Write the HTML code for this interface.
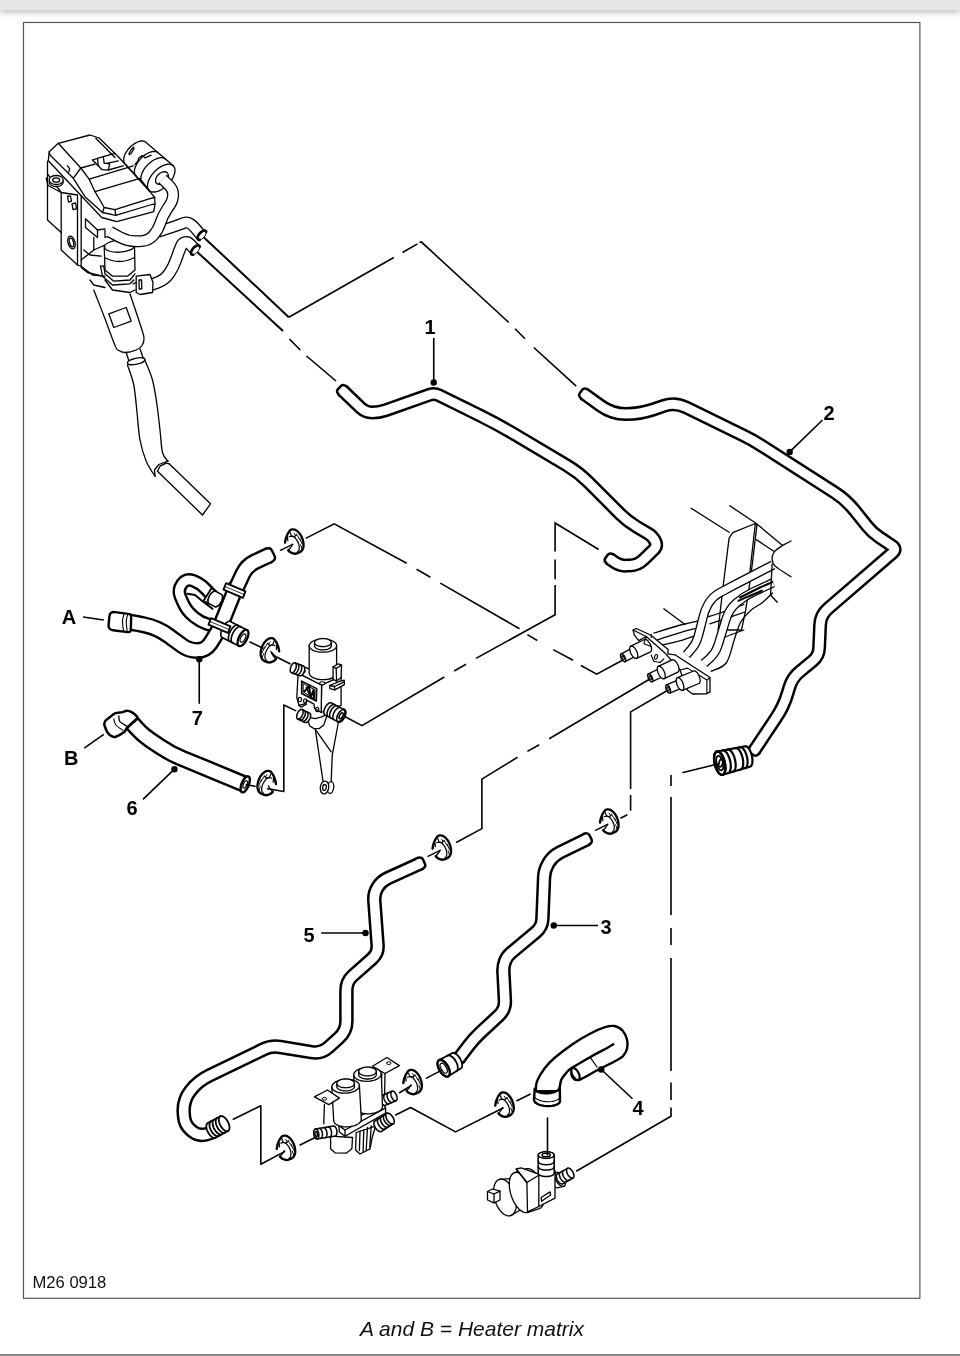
<!DOCTYPE html>
<html><head><meta charset="utf-8"><title>M26 0918</title>
<style>
html,body{margin:0;padding:0;background:#fff;}
body{width:960px;height:1356px;overflow:hidden;position:relative;font-family:"Liberation Sans",Arial,sans-serif;}
.topbar{position:absolute;left:0;top:0;width:960px;height:10px;background:#e7e7e7;box-shadow:0 1px 7px 1px rgba(0,0,0,.28);}
.botline{position:absolute;left:0;top:1354.4px;width:960px;height:1.6px;background:#8a8a8a;}
svg{position:absolute;left:0;top:0;filter:grayscale(1);}
.code,.cap{filter:grayscale(1);}
svg text{font-family:"Liberation Sans",Arial,sans-serif;}
.lb{font-weight:bold;font-size:20px;}
.cap{position:absolute;left:0;width:944px;text-align:center;top:1316.5px;font-style:italic;font-size:21px;color:#111;}
.code{position:absolute;left:32.5px;top:1272.5px;font-size:16.6px;color:#111;}
</style></head><body>
<div class="topbar"></div>
<svg width="960" height="1356" viewBox="0 0 960 1356">
<rect x="23.5" y="22.5" width="896.4" height="1275.8" fill="#fff" stroke="#505050" stroke-width="1.15"/>
<path d="M203.4,236.9 L288.8,317.2" fill="none" stroke="#000" stroke-width="2.0" />
<path d="M288.8,317.2 L393.8,257.5" fill="none" stroke="#000" stroke-width="1.6" />
<path d="M402.5,252.5L417.5,243.9" fill="none" stroke="#000" stroke-width="1.6"/>
<path d="M419.5,242.6 L421.2,241.8 L508.8,322.5" fill="none" stroke="#000" stroke-width="1.6" />
<path d="M515.0,328.8L525.0,338.8M533.8,347.5L576.2,386.2" fill="none" stroke="#000" stroke-width="1.6"/>
<path d="M196.7,251.5L283.0,331.0" fill="none" stroke="#000" stroke-width="2.0"/>
<path d="M289.4,339.0L300.3,350.0M306.5,356.0L336.0,381.0" fill="none" stroke="#000" stroke-width="1.6"/>
<path d="M305.7,538.4 L334.2,523.8 L406.7,563.3" fill="none" stroke="#000" stroke-width="1.6" />
<path d="M416.6,569.3L430.4,577.2M440.3,583.1L519.5,628.7M527.4,634.6L537.3,640.5M553.2,649.6L573.0,660.3" fill="none" stroke="#000" stroke-width="1.6"/>
<path d="M580.9,665.5 L596.7,674.2 L622.4,660.3" fill="none" stroke="#000" stroke-width="1.6" />
<path d="M598.7,549.5 L555.1,523.0 L555.1,551.5" fill="none" stroke="#000" stroke-width="1.6" />
<path d="M555.1,559.4L555.1,579.2" fill="none" stroke="#000" stroke-width="1.6"/>
<path d="M555.1,585.0 L555.1,614.8 L476.0,658.4" fill="none" stroke="#000" stroke-width="1.6" />
<path d="M466.0,664.3L454.2,671.0" fill="none" stroke="#000" stroke-width="1.6"/>
<path d="M444.3,677.0 L362.0,725.7 L343.3,715.8" fill="none" stroke="#000" stroke-width="1.6" />
<path d="M649.8,679.0L549.2,738.7M539.3,744.7L527.4,751.4" fill="none" stroke="#000" stroke-width="1.6"/>
<path d="M517.5,757.3 L481.9,779.1 L481.9,828.6 L456.2,842.5" fill="none" stroke="#000" stroke-width="1.6" />
<path d="M667.8,690.2 L630.6,711.9 L630.6,789.0" fill="none" stroke="#000" stroke-width="1.6" />
<path d="M630.6,795.0L630.6,810.8M627.4,814.7L620.4,818.2" fill="none" stroke="#000" stroke-width="1.6"/>
<path d="M671.0,775.0L671.0,786.0M671.0,797.0L671.0,915.0M671.0,928.0L671.0,945.0M671.0,958.0L671.0,1071.0M671.0,1082.5L671.0,1100.0" fill="none" stroke="#000" stroke-width="1.6"/>
<path d="M671.0,1107.5 L671.0,1116.2 L576.2,1171.2" fill="none" stroke="#000" stroke-width="1.6" />
<path d="M93.8,290.0C95.6,294.8 101.5,309.5 105.0,318.8C108.5,328.0 112.8,340.3 115.0,345.5C117.2,350.7 116.3,348.8 118.0,350.0C119.7,351.2 122.0,352.5 125.0,352.5C128.0,352.5 133.4,351.2 136.2,350.0C139.1,348.8 140.7,347.4 142.0,345.5C143.3,343.6 144.0,341.3 144.0,338.8C144.0,336.2 144.3,337.5 142.0,330.0C139.7,322.5 132.0,299.8 130.0,293.8" fill="#fff" stroke="#000" stroke-width="1.3" stroke-linejoin="round" stroke-linecap="round" />
<path d="M108.8,313.8 L126.2,307.5 L131.2,321.2 L113.8,327.5Z" fill="none" stroke="#000" stroke-width="1.3" stroke-linejoin="round" stroke-linecap="round"/>
<path d="M126.2,352.5 L128.8,360.5" fill="none" stroke="#000" stroke-width="1.3" stroke-linejoin="round" stroke-linecap="round"/>
<path d="M140.0,348.8 L143.0,357.5" fill="none" stroke="#000" stroke-width="1.3" stroke-linejoin="round" stroke-linecap="round"/>
<ellipse cx="136.2" cy="361.2" rx="9" ry="3" transform="rotate(-12 136.2 361.2)" fill="none" stroke="#000" stroke-width="1.3"/>
<path d="M127.5,365.0C128.5,368.3 132.2,377.1 133.8,385.0C135.3,392.9 136.0,403.3 137.0,412.5C138.0,421.7 138.5,431.9 140.0,440.0C141.5,448.1 143.8,455.2 146.2,461.2C148.8,467.3 153.5,473.8 155.0,476.2" fill="none" stroke="#000" stroke-width="1.3" stroke-linejoin="round" stroke-linecap="round" />
<path d="M145.0,360.5C146.2,363.8 150.5,372.6 152.5,380.0C154.5,387.4 155.8,396.7 157.0,405.0C158.2,413.3 159.1,422.1 160.0,430.0C160.9,437.9 161.2,447.3 162.5,452.5C163.8,457.7 167.1,459.8 168.0,461.2" fill="none" stroke="#000" stroke-width="1.3" stroke-linejoin="round" stroke-linecap="round" />
<path d="M155.0,476.2 L154.5,470.0 L158.8,464.5 L168.0,461.2" fill="none" stroke="#000" stroke-width="1.3" stroke-linejoin="round" stroke-linecap="round"/>
<path d="M157.5,471.2 L202.5,515.0 L210.5,503.8 L169.2,463.8" fill="none" stroke="#000" stroke-width="1.3" stroke-linejoin="round" stroke-linecap="round"/>
<path d="M157.5,471.2 L160.0,466.2 L166.2,463.2 L169.2,463.8" fill="none" stroke="#000" stroke-width="1.3" stroke-linejoin="round" stroke-linecap="round"/>
<path d="M47.5,161.2 L47.5,220.0 L61.2,232.5 L61.2,250.0 L77.5,265.0 L81.2,266.2" fill="none" stroke="#000" stroke-width="1.3" stroke-linejoin="round" stroke-linecap="round"/>
<path d="M61.2,192.5 L61.2,232.5" fill="none" stroke="#000" stroke-width="1.3" stroke-linejoin="round" stroke-linecap="round"/>
<path d="M47.5,173.8 L61.2,192.5 L77.5,195.0 L77.5,265.0" fill="none" stroke="#000" stroke-width="1.3" stroke-linejoin="round" stroke-linecap="round"/>
<path d="M81.2,195.0 L81.2,266.2 L92.5,275.0 L105.0,276.2" fill="none" stroke="#000" stroke-width="1.3" stroke-linejoin="round" stroke-linecap="round"/>
<path d="M46.2,178.0 L48.0,185.5 L61.2,192.5" fill="none" stroke="#000" stroke-width="1.3" stroke-linejoin="round" stroke-linecap="round"/>
<ellipse cx="56.2" cy="182.0" rx="7" ry="4.5" transform="rotate(0 56.2 182.0)" fill="#fff" stroke="#000" stroke-width="1.3"/>
<ellipse cx="56.2" cy="180.0" rx="7" ry="4.5" transform="rotate(0 56.2 180.0)" fill="#fff" stroke="#000" stroke-width="1.3"/>
<ellipse cx="56.2" cy="180.0" rx="3.5" ry="2.2" transform="rotate(0 56.2 180.0)" fill="none" stroke="#000" stroke-width="1.3"/>
<path d="M67.5,196.2 L70.5,195.8 L71.5,201.2 L68.5,202.0Z" fill="none" stroke="#000" stroke-width="1.3" stroke-linejoin="round" stroke-linecap="round"/>
<path d="M72.0,203.8 L75.5,203.0 L76.5,208.8 L73.0,209.5Z" fill="none" stroke="#000" stroke-width="1.3" stroke-linejoin="round" stroke-linecap="round"/>
<ellipse cx="71.5" cy="242.5" rx="3.5" ry="6.5" transform="rotate(-15 71.5 242.5)" fill="none" stroke="#000" stroke-width="1.3"/>
<ellipse cx="71.5" cy="242.5" rx="2" ry="4.5" transform="rotate(-15 71.5 242.5)" fill="none" stroke="#000" stroke-width="1.3"/>
<path d="M85.5,218.8 L85.5,227.5 L97.5,237.5 L97.5,230.0 L85.5,218.8" fill="none" stroke="#000" stroke-width="1.3" stroke-linejoin="round" stroke-linecap="round"/>
<path d="M97.5,230.0 L105.0,228.8" fill="none" stroke="#000" stroke-width="1.3" stroke-linejoin="round" stroke-linecap="round"/>
<path d="M93.8,237.5 L93.8,250.0 L105.0,245.0" fill="none" stroke="#000" stroke-width="1.3" stroke-linejoin="round" stroke-linecap="round"/>
<path d="M93.8,250.0 L81.2,260.0" fill="none" stroke="#000" stroke-width="1.3" stroke-linejoin="round" stroke-linecap="round"/>
<path d="M105.0,230.0 L105.0,237.5 L112.5,235.0" fill="none" stroke="#000" stroke-width="1.3" stroke-linejoin="round" stroke-linecap="round"/>
<path d="M83.8,250.0 L90.0,255.0 L101.2,256.2" fill="none" stroke="#000" stroke-width="1.3" stroke-linejoin="round" stroke-linecap="round"/>
<path d="M81.2,267.5 L87.5,272.5 L102.5,276.2" fill="none" stroke="#000" stroke-width="1.3" stroke-linejoin="round" stroke-linecap="round"/>
<path d="M104.2,246.2 L105.0,270.0 L112.5,276.2 L127.5,276.2 L135.0,270.0 L134.5,246.2" fill="#fff" stroke="#000" stroke-width="1.3" stroke-linejoin="round" stroke-linecap="round"/>
<ellipse cx="119.5" cy="246.2" rx="15" ry="6" transform="rotate(-3 119.5 246.2)" fill="#fff" stroke="#000" stroke-width="1.3"/>
<path d="M104.5,257.5 q15,8 30,0" fill="none" stroke="#000" stroke-width="1.3"/>
<path d="M100.5,266.2 L102.5,276.2 L112.5,285.0 L130.0,283.8 L133.8,280.0" fill="none" stroke="#000" stroke-width="1.3" stroke-linejoin="round" stroke-linecap="round"/>
<path d="M103.8,266.2 L105.0,273.8 L113.8,281.2 L130.0,280.0 L135.0,273.8" fill="none" stroke="#000" stroke-width="1.3" stroke-linejoin="round" stroke-linecap="round"/>
<path d="M100.5,266.2 L103.8,266.2" fill="none" stroke="#000" stroke-width="1.3" stroke-linejoin="round" stroke-linecap="round"/>
<path d="M105.0,280.0 L112.5,290.0 L130.0,292.5 L135.0,290.0" fill="none" stroke="#000" stroke-width="1.3" stroke-linejoin="round" stroke-linecap="round"/>
<path d="M90.0,280.0 L93.8,285.0 L105.0,287.5" fill="none" stroke="#000" stroke-width="1.3" stroke-linejoin="round" stroke-linecap="round"/>
<path d="M150.8,284.9L157.9,282.3Q164.9,279.7 169.1,273.5L169.3,273.2Q173.8,266.7 176.2,259.2L177.6,255.3Q179.0,251.0 180.8,247.0L181.5,245.3Q182.6,242.9 185.2,242.4L185.2,242.4Q187.8,241.9 189.6,243.8L194.8,249.2" fill="none" stroke="#000" stroke-width="12.5" stroke-linecap="butt" stroke-linejoin="round"/><path d="M150.8,284.9L157.9,282.3Q164.9,279.7 169.1,273.5L169.3,273.2Q173.8,266.7 176.2,259.2L177.6,255.3Q179.0,251.0 180.8,247.0L181.5,245.3Q182.6,242.9 185.2,242.4L185.2,242.4Q187.8,241.9 189.6,243.8L194.8,249.2" fill="none" stroke="#fff" stroke-width="9.9" stroke-linecap="butt" stroke-linejoin="round"/>
<path d="M136.2,276.2 L150.0,274.5 L153.0,282.5 L152.5,292.5 L140.0,294.5 L136.2,292.5Z" fill="#fff" stroke="#000" stroke-width="1.3" stroke-linejoin="round" stroke-linecap="round"/>
<path d="M139.0,280.0 L141.5,279.8 L141.8,288.8 L139.2,289.0Z" fill="none" stroke="#000" stroke-width="1.3" stroke-linejoin="round" stroke-linecap="round"/>
<path d="M133.0,283.8 L136.2,282.5" fill="none" stroke="#000" stroke-width="1.3" stroke-linejoin="round" stroke-linecap="round"/>
<path d="M158.1,231.8L170.1,227.9Q175.8,226.0 181.5,223.9L183.8,222.9Q187.1,221.7 190.0,223.6L190.0,223.6Q192.9,225.5 195.2,228.2L201.2,235.4" fill="none" stroke="#000" stroke-width="12" stroke-linecap="butt" stroke-linejoin="round"/><path d="M158.1,231.8L170.1,227.9Q175.8,226.0 181.5,223.9L183.8,222.9Q187.1,221.7 190.0,223.6L190.0,223.6Q192.9,225.5 195.2,228.2L201.2,235.4" fill="none" stroke="#fff" stroke-width="9.4" stroke-linecap="butt" stroke-linejoin="round"/>
<path d="M125.2,163.9 L124.6,163.2 L124.1,162.3 L123.8,161.4 L123.7,160.3 L123.7,159.2 L123.8,158.0 L124.1,156.7 L124.6,155.4 L125.1,154.0 L125.9,152.7 L126.7,151.3 L127.6,150.0 L128.7,148.7 L129.8,147.5 L131.0,146.3 L132.3,145.2 L133.6,144.2 L134.9,143.4 L136.3,142.6 L137.6,142.0 L138.9,141.5 L140.2,141.2 L141.4,141.0 L142.5,141.0 L143.6,141.1 L144.5,141.4 L145.4,141.8 L146.1,142.4 L173.3,165.8 L173.9,166.6 L174.4,167.6 L174.8,168.6 L175.0,169.8 L175.0,171.2 L174.8,172.5 L174.4,174.0 L173.9,175.5 L173.3,177.1 L172.5,178.6 L171.5,180.2 L170.4,181.7 L169.2,183.2 L167.9,184.6 L166.5,185.9 L165.1,187.2 L163.6,188.3 L162.0,189.3 L160.5,190.2 L159.0,190.9 L157.5,191.4 L156.0,191.8 L154.6,192.0 L153.3,192.0 L152.1,191.9 L151.0,191.6 L150.1,191.1 L149.2,190.4Z" fill="#fff" stroke="#000" stroke-width="1.3" stroke-linejoin="round" stroke-linecap="round" /><path d="M136.0,175.8 L135.4,175.1 L134.9,174.2 L134.6,173.2 L134.4,172.1 L134.4,170.9 L134.6,169.6 L134.9,168.2 L135.4,166.8 L136.0,165.4 L136.7,163.9 L137.6,162.5 L138.6,161.0 L139.8,159.7 L141.0,158.3 L142.3,157.1 L143.6,155.9 L145.0,154.9 L146.4,154.0 L147.9,153.2 L149.3,152.5 L150.7,152.0 L152.0,151.7 L153.3,151.5 L154.5,151.4 L155.7,151.6 L156.7,151.9 L157.6,152.3 L158.3,152.9" fill="none" stroke="#000" stroke-width="1.3" stroke-linejoin="round" stroke-linecap="round" /><path d="M142.5,183.0 L141.8,182.2 L141.4,181.3 L141.0,180.3 L140.9,179.1 L140.9,177.8 L141.0,176.5 L141.4,175.1 L141.8,173.6 L142.5,172.1 L143.3,170.6 L144.2,169.1 L145.2,167.7 L146.4,166.2 L147.7,164.9 L149.0,163.6 L150.4,162.4 L151.8,161.3 L153.3,160.3 L154.8,159.5 L156.3,158.8 L157.7,158.3 L159.1,157.9 L160.5,157.7 L161.7,157.7 L162.9,157.9 L163.9,158.2 L164.9,158.6 L165.7,159.3" fill="none" stroke="#000" stroke-width="1.3" stroke-linejoin="round" stroke-linecap="round" /><path d="M149.2,190.4 L148.6,189.6 L148.1,188.7 L147.7,187.6 L147.5,186.4 L147.5,185.1 L147.7,183.7 L148.1,182.2 L148.6,180.7 L149.2,179.2 L150.0,177.6 L151.0,176.1 L152.1,174.5 L153.3,173.1 L154.6,171.6 L156.0,170.3 L157.4,169.1 L158.9,167.9 L160.5,166.9 L162.0,166.1 L163.5,165.4 L165.0,164.8 L166.5,164.5 L167.9,164.2 L169.2,164.2 L170.4,164.4 L171.5,164.7 L172.4,165.2 L173.3,165.8" fill="none" stroke="#000" stroke-width="1.3" stroke-linejoin="round" stroke-linecap="round" />
<ellipse cx="161.9" cy="178.1" rx="7.5" ry="5.0" transform="rotate(-44.0 161.9 178.1)" fill="none" stroke="#000" stroke-width="1.3"/>
<path d="M135.0,164.4 L137.8,161.2 L139.0,157.8 L142.2,155.6 L145.0,157.8 L151.2,155.2" fill="none" stroke="#000" stroke-width="1.3" stroke-linejoin="round" stroke-linecap="round"/>
<path d="M133.7,147.4 L133.9,147.6 L133.9,148.0 L133.8,148.5 L133.6,149.2 L133.2,149.9 L132.8,150.7 L132.3,151.5 L131.8,152.3 L131.3,153.0 L130.8,153.6 L130.3,154.1 L129.9,154.4 L129.5,154.6 L129.3,154.6 L129.1,154.4 L129.1,154.0 L129.2,153.5 L129.4,152.8 L129.8,152.1 L130.2,151.3 L130.7,150.5 L131.2,149.7 L131.7,149.0 L132.2,148.4 L132.7,147.9 L133.1,147.6 L133.5,147.4 L133.7,147.4Z" fill="none" stroke="#000" stroke-width="1.3" stroke-linejoin="round" stroke-linecap="round" />
<path d="M162.5,179.0L169.3,185.7Q173.1,189.4 173.1,194.7L173.1,194.7Q173.1,200.0 170.2,204.4L166.4,210.2Q162.5,216.2 160.3,223.1L160.3,223.2Q158.1,230.0 153.4,235.3L153.4,235.3Q148.8,240.6 141.7,241.1L138.8,241.2Q128.8,241.9 119.9,237.2L110.0,231.9" fill="none" stroke="#000" stroke-width="12" stroke-linecap="butt" stroke-linejoin="round"/><path d="M162.5,179.0L169.3,185.7Q173.1,189.4 173.1,194.7L173.1,194.7Q173.1,200.0 170.2,204.4L166.4,210.2Q162.5,216.2 160.3,223.1L160.3,223.2Q158.1,230.0 153.4,235.3L153.4,235.3Q148.8,240.6 141.7,241.1L138.8,241.2Q128.8,241.9 119.9,237.2L110.0,231.9" fill="none" stroke="#fff" stroke-width="9.4" stroke-linecap="butt" stroke-linejoin="round"/>
<path d="M205.8,230.9 L206.1,231.4 L206.3,232.1 L206.2,233.0 L205.9,234.0 L205.4,235.0 L204.8,236.1 L204.0,237.1 L203.0,238.0 L202.1,238.8 L201.1,239.4 L200.1,239.7 L199.3,239.9 L198.6,239.8 L198.0,239.5 L197.6,239.0 L197.5,238.3 L197.5,237.4 L197.8,236.4 L198.3,235.4 L199.0,234.3 L199.8,233.3 L200.7,232.4 L201.7,231.7 L202.7,231.1 L203.6,230.7 L204.5,230.5 L205.2,230.6 L205.8,230.9Z" fill="#fff" stroke="#000" stroke-width="1.0" stroke-linejoin="round" stroke-linecap="round" />
<path d="M199.6,239.9 L199.0,239.9 L198.6,239.8 L198.2,239.7 L197.9,239.4 L197.7,239.1 L197.5,238.7 L197.5,238.2 L197.5,237.6 L197.6,237.0 L197.9,236.4 L198.1,235.7 L198.5,235.0 L199.0,234.4 L199.5,233.7 L200.0,233.1 L200.6,232.5 L201.2,232.0 L201.8,231.5 L202.5,231.2 L203.1,230.9 L203.7,230.6 L204.2,230.5 L204.7,230.5 L205.2,230.6 L205.6,230.8 L205.9,231.0 L206.1,231.4 L206.2,231.8" fill="none" stroke="#000" stroke-width="2.6" stroke-linejoin="round" stroke-linecap="round" />
<path d="M199.3,245.7 L199.7,246.2 L199.8,246.9 L199.7,247.8 L199.5,248.8 L199.0,249.8 L198.3,250.9 L197.5,251.9 L196.6,252.8 L195.6,253.6 L194.6,254.2 L193.7,254.5 L192.8,254.7 L192.1,254.6 L191.5,254.3 L191.2,253.8 L191.0,253.1 L191.1,252.2 L191.4,251.2 L191.9,250.2 L192.5,249.1 L193.3,248.1 L194.3,247.2 L195.2,246.4 L196.2,245.8 L197.2,245.5 L198.0,245.3 L198.7,245.4 L199.3,245.7Z" fill="#fff" stroke="#000" stroke-width="1.0" stroke-linejoin="round" stroke-linecap="round" />
<path d="M193.1,254.7 L192.6,254.7 L192.1,254.6 L191.7,254.5 L191.4,254.2 L191.2,253.9 L191.1,253.4 L191.0,253.0 L191.1,252.4 L191.2,251.8 L191.4,251.2 L191.7,250.5 L192.1,249.8 L192.5,249.2 L193.0,248.5 L193.6,247.9 L194.1,247.3 L194.8,246.8 L195.4,246.3 L196.0,245.9 L196.6,245.6 L197.2,245.4 L197.8,245.3 L198.3,245.3 L198.7,245.4 L199.1,245.6 L199.4,245.8 L199.6,246.2 L199.8,246.6" fill="none" stroke="#000" stroke-width="2.6" stroke-linejoin="round" stroke-linecap="round" />
<path d="M49.2,151.7 L58.3,143.3 L90.0,135.0 L99.2,138.0 L118.3,156.7 L150.0,191.7 L154.7,197.5 L155.0,204.2 L153.8,211.7 L116.7,221.7 L101.7,217.5 L48.3,160.8Z" fill="#fff" stroke="#000" stroke-width="1.3" stroke-linejoin="round" stroke-linecap="round"/>
<path d="M95.8,138.3 L115.0,157.5" fill="none" stroke="#000" stroke-width="1.3" stroke-linejoin="round" stroke-linecap="round"/>
<path d="M58.3,143.3 L80.8,168.0 L89.2,179.2 L95.0,191.7 L104.2,207.5 L115.0,209.7 L149.2,198.8 L154.7,197.5" fill="none" stroke="#000" stroke-width="1.3" stroke-linejoin="round" stroke-linecap="round"/>
<path d="M89.2,179.2 L133.3,165.8" fill="none" stroke="#000" stroke-width="1.3" stroke-linejoin="round" stroke-linecap="round"/>
<path d="M95.0,191.7 L140.0,178.3 L149.2,190.8" fill="none" stroke="#000" stroke-width="1.3" stroke-linejoin="round" stroke-linecap="round"/>
<path d="M80.8,168.0 L73.3,178.3 L85.0,196.7 L102.5,212.5 L115.8,215.3 L151.7,204.5 L155.0,204.2" fill="none" stroke="#000" stroke-width="1.3" stroke-linejoin="round" stroke-linecap="round"/>
<path d="M104.2,207.5 L102.5,212.5" fill="none" stroke="#000" stroke-width="1.3" stroke-linejoin="round" stroke-linecap="round"/>
<path d="M115.0,209.7 L115.8,215.3" fill="none" stroke="#000" stroke-width="1.3" stroke-linejoin="round" stroke-linecap="round"/>
<path d="M49.2,151.7 L50.0,155.0 L73.3,178.3" fill="none" stroke="#000" stroke-width="1.3" stroke-linejoin="round" stroke-linecap="round"/>
<path d="M80.8,168.0 L95.0,164.2" fill="none" stroke="#000" stroke-width="1.3" stroke-linejoin="round" stroke-linecap="round"/>
<path d="M67.5,165.8 L69.7,168.7 L68.7,172.0" fill="none" stroke="#000" stroke-width="1.3" stroke-linejoin="round" stroke-linecap="round"/>
<path d="M92.5,160.0 L98.3,165.8 L102.0,169.7 L108.3,170.0 L109.7,164.2 L106.7,163.3 L118.3,160.8" fill="none" stroke="#000" stroke-width="1.3" stroke-linejoin="round" stroke-linecap="round"/>
<path d="M92.5,160.0 L97.5,158.3 L98.3,165.8" fill="none" stroke="#000" stroke-width="1.3" stroke-linejoin="round" stroke-linecap="round"/>
<path d="M97.5,158.3 L103.3,156.7 L104.2,163.3 L106.7,163.3" fill="none" stroke="#000" stroke-width="1.3" stroke-linejoin="round" stroke-linecap="round"/>
<path d="M103.3,156.7 L115.0,153.3" fill="none" stroke="#000" stroke-width="1.3" stroke-linejoin="round" stroke-linecap="round"/>
<path d="M108.3,170.0 L123.3,165.8" fill="none" stroke="#000" stroke-width="1.3" stroke-linejoin="round" stroke-linecap="round"/>
<path d="M691.1,508.2 L729.1,532.3" fill="none" stroke="#000" stroke-width="1.3" stroke-linejoin="round" stroke-linecap="round" /><path d="M729.8,505.8 L756.0,523.3 L782.6,545.4 L791.0,541.0" fill="none" stroke="#000" stroke-width="1.3" stroke-linejoin="round" stroke-linecap="round" />
<path d="M756.3,539.6 L773.8,551.3" fill="none" stroke="#000" stroke-width="1.3" stroke-linejoin="round" stroke-linecap="round" />
<path d="M782.6,545.4C781.3,546.4 776.5,549.1 774.7,551.3C773.0,553.4 772.0,556.1 772.1,558.5C772.2,561.0 772.1,563.1 775.3,566.1C778.5,569.2 788.4,575.0 791.0,576.8" fill="none" stroke="#000" stroke-width="1.3" stroke-linejoin="round" stroke-linecap="round" />
<path d="M729.1,538.1 L732.7,532.6 L755.3,523.5 L756.9,525.3 L751.1,573.9 L745.8,609.6 L741.5,630.0 L718.1,630.0 L723.2,585.5Z" fill="#fff" stroke="#000" stroke-width="1.3" stroke-linejoin="round" stroke-linecap="round" />
<path d="M755.3,523.8 L749.9,571.7" fill="none" stroke="#000" stroke-width="1.3" stroke-linejoin="round" stroke-linecap="round" />
<path d="M663.8,608.8 L685.0,624.5" fill="none" stroke="#000" stroke-width="1.3" stroke-linejoin="round" stroke-linecap="round" />
<path d="M743.8,630.0 L725.0,637.0" fill="none" stroke="#000" stroke-width="1.3" stroke-linejoin="round" stroke-linecap="round" />
<path d="M653.8,633.0C658.5,631.6 674.8,626.6 682.5,624.5C690.2,622.4 697.1,621.2 700.0,620.5" fill="none" stroke="#000" stroke-width="1.3" stroke-linejoin="round" stroke-linecap="round" />
<path d="M657.0,640.0C661.7,638.5 678.2,633.2 685.0,631.2C691.8,629.2 695.8,628.5 698.0,628.0" fill="none" stroke="#000" stroke-width="1.3" stroke-linejoin="round" stroke-linecap="round" />
<path d="M662.5,645.0C665.8,644.2 676.9,641.6 682.5,640.0C688.1,638.4 694.0,636.2 696.2,635.5" fill="none" stroke="#000" stroke-width="1.3" stroke-linejoin="round" stroke-linecap="round" />
<path d="M707.5,617.0C709.6,616.3 714.0,615.1 720.0,613.0C726.0,610.9 739.8,605.9 743.8,604.5" fill="none" stroke="#000" stroke-width="1.3" stroke-linejoin="round" stroke-linecap="round" />
<path d="M710.0,623.8C712.5,622.9 719.2,620.7 725.0,618.8C730.8,616.8 741.7,613.1 745.0,612.0" fill="none" stroke="#000" stroke-width="1.3" stroke-linejoin="round" stroke-linecap="round" />
<path d="M772.5,593.0C770.8,594.6 766.0,599.7 762.5,602.5C759.0,605.3 754.9,606.7 751.2,610.0C747.6,613.3 743.3,617.5 740.5,622.5C737.7,627.5 736.6,633.2 734.2,640.0C731.9,646.8 730.1,657.8 726.2,663.0C722.4,668.2 713.8,669.9 711.2,671.2" fill="none" stroke="#000" stroke-width="1.3" stroke-linejoin="round" stroke-linecap="round" />
<path d="M773.0,582.8L753.7,591.7Q744.5,596.0 736.8,602.6L736.8,602.6Q729.0,609.2 726.1,619.0L725.1,622.2Q722.0,632.5 718.8,642.8L717.9,645.6Q715.5,653.0 709.8,658.2L704.0,663.5" fill="none" stroke="#000" stroke-width="9.5" stroke-linecap="butt" stroke-linejoin="round"/><path d="M773.0,582.8L753.7,591.7Q744.5,596.0 736.8,602.6L736.8,602.6Q729.0,609.2 726.1,619.0L725.1,622.2Q722.0,632.5 718.8,642.8L717.9,645.6Q715.5,653.0 709.8,658.2L704.0,663.5" fill="none" stroke="#fff" stroke-width="6.9" stroke-linecap="butt" stroke-linejoin="round"/>
<path d="M773.0,565.0L746.4,578.7Q735.0,584.5 723.8,590.6L719.5,592.9Q712.5,596.8 708.5,603.6L708.2,604.1Q704.5,610.5 702.9,617.8L702.9,617.8Q701.2,625.0 699.3,632.2L698.1,636.6Q696.2,643.8 691.4,649.2L686.5,654.8" fill="none" stroke="#000" stroke-width="9.5" stroke-linecap="butt" stroke-linejoin="round"/><path d="M773.0,565.0L746.4,578.7Q735.0,584.5 723.8,590.6L719.5,592.9Q712.5,596.8 708.5,603.6L708.2,604.1Q704.5,610.5 702.9,617.8L702.9,617.8Q701.2,625.0 699.3,632.2L698.1,636.6Q696.2,643.8 691.4,649.2L686.5,654.8" fill="none" stroke="#fff" stroke-width="6.9" stroke-linecap="butt" stroke-linejoin="round"/>
<path d="M740.0,597.5 L760.0,587.5 L772.5,582.0" fill="none" stroke="#000" stroke-width="2.0" stroke-linejoin="round" stroke-linecap="round" />
<path d="M738.5,600.8C740.7,599.9 747.8,596.7 751.7,595.0C755.6,593.3 760.2,591.4 761.9,590.6" fill="none" stroke="#000" stroke-width="2.0" stroke-linejoin="round" stroke-linecap="round" />
<path d="M772.1,564.1 L770.6,595.0 L777.2,602.3" fill="none" stroke="#000" stroke-width="1.3" stroke-linejoin="round" stroke-linecap="round" />
<path d="M631.7,648.3 L631.9,648.3 L632.2,648.2 L632.4,648.3 L632.7,648.3 L633.0,648.5 L633.3,648.6 L633.6,648.8 L633.9,649.1 L634.2,649.4 L634.5,649.7 L634.7,650.1 L635.0,650.5 L635.3,650.9 L635.5,651.3 L635.7,651.8 L635.9,652.2 L636.1,652.7 L636.2,653.1 L636.3,653.6 L636.4,654.0 L636.4,654.4 L636.4,654.7 L636.4,655.1 L636.3,655.4 L636.2,655.6 L636.1,655.9 L636.0,656.0 L635.8,656.2 L625.1,661.7 L624.9,661.7 L624.7,661.8 L624.5,661.7 L624.2,661.7 L623.9,661.5 L623.6,661.4 L623.3,661.2 L623.0,660.9 L622.7,660.6 L622.4,660.3 L622.1,659.9 L621.9,659.5 L621.6,659.1 L621.4,658.7 L621.2,658.2 L621.0,657.8 L620.8,657.3 L620.7,656.9 L620.6,656.4 L620.5,656.0 L620.5,655.6 L620.4,655.3 L620.5,654.9 L620.5,654.6 L620.6,654.4 L620.8,654.1 L620.9,654.0 L621.1,653.8Z" fill="#fff" stroke="#000" stroke-width="1.3" stroke-linejoin="round" stroke-linecap="round" /><path d="M621.1,653.8 L621.3,653.8 L621.5,653.7 L621.8,653.8 L622.1,653.8 L622.3,654.0 L622.6,654.1 L622.9,654.3 L623.2,654.6 L623.5,654.9 L623.8,655.2 L624.1,655.6 L624.4,656.0 L624.6,656.4 L624.9,656.8 L625.1,657.3 L625.3,657.7 L625.5,658.2 L625.6,658.6 L625.7,659.1 L625.8,659.5 L625.8,659.9 L625.8,660.2 L625.8,660.6 L625.7,660.9 L625.6,661.1 L625.5,661.4 L625.3,661.5 L625.1,661.7" fill="none" stroke="#000" stroke-width="1.3" stroke-linejoin="round" stroke-linecap="round" /><ellipse cx="623.1" cy="657.8" rx="2.2" ry="1.0" transform="rotate(-117.4 623.1 657.8)" fill="none" stroke="#000" stroke-width="1.3"/><path d="M644.5,639.5 L644.9,639.4 L645.2,639.4 L645.6,639.4 L646.0,639.5 L646.5,639.7 L646.9,640.0 L647.4,640.4 L647.8,640.8 L648.3,641.2 L648.7,641.8 L649.1,642.3 L649.5,643.0 L649.9,643.6 L650.3,644.3 L650.6,645.0 L650.8,645.7 L651.1,646.4 L651.3,647.1 L651.4,647.8 L651.5,648.4 L651.5,649.0 L651.5,649.6 L651.5,650.1 L651.4,650.6 L651.2,651.0 L651.0,651.3 L650.7,651.6 L650.5,651.8 L636.7,658.4 L636.4,658.5 L636.0,658.5 L635.6,658.5 L635.2,658.3 L634.8,658.1 L634.3,657.9 L633.9,657.5 L633.4,657.1 L633.0,656.6 L632.5,656.1 L632.1,655.5 L631.7,654.9 L631.3,654.3 L631.0,653.6 L630.7,652.9 L630.4,652.2 L630.2,651.5 L630.0,650.8 L629.8,650.1 L629.8,649.5 L629.7,648.9 L629.7,648.3 L629.8,647.8 L629.9,647.3 L630.1,646.9 L630.3,646.6 L630.5,646.3 L630.8,646.1Z" fill="#fff" stroke="#000" stroke-width="1.3" stroke-linejoin="round" stroke-linecap="round" /><path d="M630.8,646.1 L631.1,646.0 L631.5,646.0 L631.9,646.0 L632.3,646.2 L632.7,646.4 L633.2,646.6 L633.6,647.0 L634.1,647.4 L634.5,647.9 L635.0,648.4 L635.4,649.0 L635.8,649.6 L636.2,650.2 L636.5,650.9 L636.8,651.6 L637.1,652.3 L637.3,653.0 L637.5,653.7 L637.7,654.4 L637.7,655.0 L637.8,655.6 L637.8,656.2 L637.7,656.7 L637.6,657.2 L637.4,657.6 L637.2,657.9 L637.0,658.2 L636.7,658.4" fill="none" stroke="#000" stroke-width="1.3" stroke-linejoin="round" stroke-linecap="round" />
<path d="M633.1,630.0 L636.2,628.5 L650.6,635.0 L668.1,649.4 L667.8,653.8 L675.0,654.8 L710.0,677.5 L710.0,691.9 L706.2,693.8 L692.5,694.0 L687.5,690.2 L680.0,670.0 L665.0,653.1 L646.2,636.5 L638.8,640.6 L634.4,635.2Z" fill="#fff" stroke="#000" stroke-width="1.3" stroke-linejoin="round" stroke-linecap="round" />
<path d="M633.1,630.0 L646.2,636.5" fill="none" stroke="#000" stroke-width="1.1" stroke-linejoin="round" stroke-linecap="round" /><path d="M646.2,636.5 L643.8,643.8 L651.2,646.5" fill="none" stroke="#000" stroke-width="1.1" stroke-linejoin="round" stroke-linecap="round" />
<path d="M680.0,670.0 L687.5,668.1 L706.9,680.0 L706.9,693.5" fill="none" stroke="#000" stroke-width="1.1" stroke-linejoin="round" stroke-linecap="round" /><path d="M706.9,680.0 L710.0,677.5" fill="none" stroke="#000" stroke-width="1.1" stroke-linejoin="round" stroke-linecap="round" />
<path d="M651.2,637.5 L651.2,634.4" fill="none" stroke="#000" stroke-width="1.1" stroke-linejoin="round" stroke-linecap="round" />
<ellipse cx="656.0" cy="656.9" rx="1.4" ry="2.4" transform="rotate(15.0 656.0 656.9)" fill="none" stroke="#000" stroke-width="1.1"/>
<path d="M651.2,655.0 L653.8,661.2 L660.0,662.5 L663.8,658.8" fill="none" stroke="#000" stroke-width="1.1" stroke-linejoin="round" stroke-linecap="round" />
<path d="M659.4,668.5 L659.6,668.5 L659.8,668.4 L660.1,668.5 L660.3,668.6 L660.6,668.7 L660.9,668.9 L661.2,669.1 L661.5,669.4 L661.8,669.7 L662.0,670.0 L662.3,670.4 L662.6,670.8 L662.8,671.2 L663.0,671.6 L663.2,672.1 L663.4,672.6 L663.6,673.0 L663.7,673.5 L663.8,673.9 L663.8,674.3 L663.9,674.7 L663.8,675.1 L663.8,675.4 L663.7,675.7 L663.6,676.0 L663.5,676.2 L663.3,676.4 L663.1,676.5 L652.1,681.7 L651.9,681.8 L651.7,681.8 L651.4,681.8 L651.2,681.7 L650.9,681.6 L650.6,681.4 L650.3,681.2 L650.0,680.9 L649.7,680.6 L649.5,680.2 L649.2,679.9 L648.9,679.5 L648.7,679.0 L648.5,678.6 L648.3,678.2 L648.1,677.7 L647.9,677.2 L647.8,676.8 L647.7,676.4 L647.7,675.9 L647.6,675.5 L647.7,675.2 L647.7,674.8 L647.8,674.5 L647.9,674.3 L648.0,674.1 L648.2,673.9 L648.4,673.8Z" fill="#fff" stroke="#000" stroke-width="1.3" stroke-linejoin="round" stroke-linecap="round" /><path d="M648.4,673.8 L648.6,673.7 L648.8,673.7 L649.1,673.7 L649.3,673.8 L649.6,673.9 L649.9,674.1 L650.2,674.3 L650.5,674.6 L650.8,674.9 L651.0,675.3 L651.3,675.6 L651.6,676.0 L651.8,676.5 L652.0,676.9 L652.2,677.3 L652.4,677.8 L652.6,678.3 L652.7,678.7 L652.8,679.1 L652.8,679.6 L652.9,680.0 L652.8,680.3 L652.8,680.7 L652.7,681.0 L652.6,681.2 L652.5,681.4 L652.3,681.6 L652.1,681.7" fill="none" stroke="#000" stroke-width="1.3" stroke-linejoin="round" stroke-linecap="round" /><ellipse cx="650.2" cy="677.8" rx="2.2" ry="1.0" transform="rotate(-115.5 650.2 677.8)" fill="none" stroke="#000" stroke-width="1.3"/><path d="M672.1,659.9 L672.4,659.7 L672.8,659.7 L673.2,659.8 L673.6,659.9 L674.0,660.1 L674.5,660.4 L674.9,660.7 L675.4,661.1 L675.8,661.6 L676.2,662.2 L676.7,662.7 L677.1,663.4 L677.4,664.0 L677.8,664.7 L678.1,665.4 L678.3,666.1 L678.6,666.8 L678.8,667.5 L678.9,668.2 L679.0,668.8 L679.0,669.4 L679.0,670.0 L678.9,670.5 L678.8,671.0 L678.7,671.4 L678.4,671.7 L678.2,672.0 L677.9,672.1 L664.2,678.6 L663.8,678.8 L663.5,678.8 L663.1,678.7 L662.7,678.6 L662.2,678.4 L661.8,678.1 L661.3,677.8 L660.9,677.4 L660.5,676.9 L660.0,676.3 L659.6,675.8 L659.2,675.1 L658.8,674.5 L658.5,673.8 L658.2,673.1 L657.9,672.4 L657.7,671.7 L657.5,671.0 L657.4,670.3 L657.3,669.7 L657.2,669.1 L657.3,668.5 L657.3,668.0 L657.4,667.5 L657.6,667.1 L657.8,666.8 L658.1,666.5 L658.3,666.4Z" fill="#fff" stroke="#000" stroke-width="1.3" stroke-linejoin="round" stroke-linecap="round" /><path d="M658.3,666.4 L658.7,666.2 L659.0,666.2 L659.4,666.3 L659.8,666.4 L660.3,666.6 L660.7,666.9 L661.2,667.2 L661.6,667.6 L662.0,668.1 L662.5,668.7 L662.9,669.2 L663.3,669.9 L663.7,670.5 L664.0,671.2 L664.3,671.9 L664.6,672.6 L664.8,673.3 L665.0,674.0 L665.1,674.7 L665.2,675.3 L665.3,675.9 L665.2,676.5 L665.2,677.0 L665.1,677.5 L664.9,677.9 L664.7,678.2 L664.4,678.5 L664.2,678.6" fill="none" stroke="#000" stroke-width="1.3" stroke-linejoin="round" stroke-linecap="round" />
<path d="M678.3,679.9 L678.5,679.9 L678.7,679.9 L679.0,679.9 L679.3,680.0 L679.5,680.2 L679.8,680.4 L680.1,680.6 L680.4,680.9 L680.6,681.2 L680.9,681.5 L681.2,681.9 L681.4,682.3 L681.6,682.8 L681.8,683.2 L682.0,683.7 L682.2,684.2 L682.3,684.6 L682.4,685.1 L682.5,685.5 L682.5,685.9 L682.5,686.3 L682.5,686.7 L682.4,687.0 L682.3,687.3 L682.2,687.6 L682.1,687.8 L681.9,687.9 L681.7,688.1 L669.8,693.1 L669.6,693.1 L669.4,693.1 L669.1,693.1 L668.9,693.0 L668.6,692.8 L668.3,692.6 L668.0,692.4 L667.8,692.1 L667.5,691.8 L667.2,691.5 L667.0,691.1 L666.7,690.7 L666.5,690.2 L666.3,689.8 L666.1,689.3 L666.0,688.8 L665.8,688.4 L665.7,687.9 L665.7,687.5 L665.6,687.1 L665.6,686.7 L665.7,686.3 L665.7,686.0 L665.8,685.7 L665.9,685.4 L666.1,685.2 L666.2,685.1 L666.4,684.9Z" fill="#fff" stroke="#000" stroke-width="1.3" stroke-linejoin="round" stroke-linecap="round" /><path d="M666.4,684.9 L666.6,684.9 L666.9,684.9 L667.1,684.9 L667.4,685.0 L667.7,685.2 L667.9,685.4 L668.2,685.6 L668.5,685.9 L668.8,686.2 L669.0,686.5 L669.3,686.9 L669.5,687.3 L669.7,687.8 L669.9,688.2 L670.1,688.7 L670.3,689.2 L670.4,689.6 L670.5,690.1 L670.6,690.5 L670.6,690.9 L670.6,691.3 L670.6,691.7 L670.5,692.0 L670.5,692.3 L670.3,692.6 L670.2,692.8 L670.0,692.9 L669.8,693.1" fill="none" stroke="#000" stroke-width="1.3" stroke-linejoin="round" stroke-linecap="round" /><ellipse cx="668.1" cy="689.0" rx="2.2" ry="1.0" transform="rotate(-112.8 668.1 689.0)" fill="none" stroke="#000" stroke-width="1.3"/><path d="M693.6,671.0 L694.0,670.9 L694.3,670.9 L694.7,670.9 L695.1,671.1 L695.5,671.3 L696.0,671.6 L696.4,672.0 L696.8,672.4 L697.3,672.9 L697.7,673.5 L698.1,674.1 L698.4,674.7 L698.8,675.4 L699.1,676.1 L699.4,676.8 L699.6,677.5 L699.8,678.2 L699.9,678.9 L700.0,679.6 L700.1,680.2 L700.1,680.9 L700.1,681.4 L700.0,681.9 L699.8,682.4 L699.6,682.8 L699.4,683.1 L699.2,683.4 L698.9,683.5 L682.6,690.3 L682.3,690.4 L681.9,690.4 L681.5,690.3 L681.1,690.2 L680.7,689.9 L680.3,689.6 L679.8,689.3 L679.4,688.8 L679.0,688.3 L678.6,687.8 L678.2,687.2 L677.8,686.5 L677.5,685.9 L677.2,685.2 L676.9,684.5 L676.7,683.7 L676.5,683.0 L676.3,682.3 L676.2,681.7 L676.2,681.0 L676.2,680.4 L676.2,679.8 L676.3,679.3 L676.4,678.9 L676.6,678.5 L676.8,678.1 L677.1,677.9 L677.4,677.7Z" fill="#fff" stroke="#000" stroke-width="1.3" stroke-linejoin="round" stroke-linecap="round" /><path d="M677.4,677.7 L677.7,677.6 L678.1,677.6 L678.5,677.7 L678.9,677.8 L679.3,678.1 L679.7,678.4 L680.2,678.7 L680.6,679.2 L681.0,679.7 L681.4,680.2 L681.8,680.8 L682.2,681.5 L682.5,682.1 L682.8,682.8 L683.1,683.5 L683.3,684.3 L683.5,685.0 L683.7,685.7 L683.8,686.3 L683.8,687.0 L683.8,687.6 L683.8,688.2 L683.7,688.7 L683.6,689.1 L683.4,689.5 L683.2,689.9 L682.9,690.1 L682.6,690.3" fill="none" stroke="#000" stroke-width="1.3" stroke-linejoin="round" stroke-linecap="round" />
<path d="M342.0,389.9L360.6,407.8Q365.5,412.5 372.2,412.5L372.2,412.5Q379.0,412.5 385.4,410.3L429.7,394.7Q434.4,393.0 438.9,395.2L480.1,415.6Q498.0,424.5 515.2,434.7L566.7,465.3Q578.8,472.5 588.6,482.4L620.4,514.2Q627.5,521.2 636.1,526.4L648.5,533.8Q653.0,536.5 655.2,541.2L655.2,541.2Q657.5,546.0 653.7,549.7L643.7,559.4Q638.0,565.0 630.0,565.4L626.5,565.6Q620.0,566.0 614.7,562.3L609.4,558.5" fill="none" stroke="#000" stroke-width="14" stroke-linecap="butt" stroke-linejoin="round"/><path d="M342.0,389.9L360.6,407.8Q365.5,412.5 372.2,412.5L372.2,412.5Q379.0,412.5 385.4,410.3L429.7,394.7Q434.4,393.0 438.9,395.2L480.1,415.6Q498.0,424.5 515.2,434.7L566.7,465.3Q578.8,472.5 588.6,482.4L620.4,514.2Q627.5,521.2 636.1,526.4L648.5,533.8Q653.0,536.5 655.2,541.2L655.2,541.2Q657.5,546.0 653.7,549.7L643.7,559.4Q638.0,565.0 630.0,565.4L626.5,565.6Q620.0,566.0 614.7,562.3L609.4,558.5" fill="none" stroke="#fff" stroke-width="9.0" stroke-linecap="butt" stroke-linejoin="round"/><path d="M347.8,387.5Q343.5,383.4 341.1,385.9L337.9,389.1Q335.5,391.6 339.8,395.8" fill="#fff" stroke="#000" stroke-width="2.5" stroke-linejoin="round"/><path d="M614.7,555.3Q609.8,551.8 607.8,554.7L605.2,558.3Q603.2,561.2 608.1,564.7" fill="#fff" stroke="#000" stroke-width="2.5" stroke-linejoin="round"/>
<path d="M583.8,393.6L600.7,405.8Q612.0,414.0 626.0,414.0L626.0,414.0Q640.0,414.0 653.2,409.5L663.6,405.9Q675.0,402.0 685.8,407.3L744.0,435.8Q753.0,440.2 761.4,445.6L834.2,492.2Q846.0,499.7 854.7,510.6L867.2,526.2Q872.2,532.5 878.9,536.9L892.0,545.7Q897.0,549.0 892.5,552.9L828.1,608.5Q820.5,615.0 820.1,625.0L819.1,648.0Q818.8,656.0 812.6,661.1L799.7,671.7Q792.0,678.0 789.3,687.6L787.8,692.5Q784.0,706.0 776.2,717.6L753.9,751.1" fill="none" stroke="#000" stroke-width="14" stroke-linecap="butt" stroke-linejoin="round"/><path d="M583.8,393.6L600.7,405.8Q612.0,414.0 626.0,414.0L626.0,414.0Q640.0,414.0 653.2,409.5L663.6,405.9Q675.0,402.0 685.8,407.3L744.0,435.8Q753.0,440.2 761.4,445.6L834.2,492.2Q846.0,499.7 854.7,510.6L867.2,526.2Q872.2,532.5 878.9,536.9L892.0,545.7Q897.0,549.0 892.5,552.9L828.1,608.5Q820.5,615.0 820.1,625.0L819.1,648.0Q818.8,656.0 812.6,661.1L799.7,671.7Q792.0,678.0 789.3,687.6L787.8,692.5Q784.0,706.0 776.2,717.6L753.9,751.1" fill="none" stroke="#fff" stroke-width="9.0" stroke-linecap="butt" stroke-linejoin="round"/><path d="M589.2,390.4Q584.4,386.8 582.3,389.7L579.7,393.3Q577.6,396.2 582.5,399.7" fill="#fff" stroke="#000" stroke-width="2.5" stroke-linejoin="round"/><path d="M750.5,745.8Q747.2,750.8 750.1,752.8L753.9,755.2Q756.8,757.2 760.1,752.2" fill="#fff" stroke="#000" stroke-width="2.5" stroke-linejoin="round"/>
<path d="M587.4,838.9L559.8,852.5Q552.6,856.1 548.5,863.0L548.0,864.0Q544.4,870.0 544.1,877.0L542.4,919.0Q542.1,927.0 535.9,932.1L511.1,952.8Q506.9,956.2 505.0,961.3L505.0,961.3Q503.1,966.4 503.4,971.8L504.9,1000.5Q505.4,1009.5 498.8,1015.6L480.5,1032.6Q473.9,1038.8 468.5,1045.9L458.4,1059.2" fill="none" stroke="#000" stroke-width="14.5" stroke-linecap="butt" stroke-linejoin="round"/><path d="M587.4,838.9L559.8,852.5Q552.6,856.1 548.5,863.0L548.0,864.0Q544.4,870.0 544.1,877.0L542.4,919.0Q542.1,927.0 535.9,932.1L511.1,952.8Q506.9,956.2 505.0,961.3L505.0,961.3Q503.1,966.4 503.4,971.8L504.9,1000.5Q505.4,1009.5 498.8,1015.6L480.5,1032.6Q473.9,1038.8 468.5,1045.9L458.4,1059.2" fill="none" stroke="#fff" stroke-width="9.5" stroke-linecap="butt" stroke-linejoin="round"/><path d="M587.8,845.3Q593.2,842.7 591.6,839.5L589.4,835.1Q587.8,831.9 582.5,834.6" fill="#fff" stroke="#000" stroke-width="2.5" stroke-linejoin="round"/><path d="M455.1,1053.6Q451.5,1058.4 454.3,1060.5L458.2,1063.5Q461.0,1065.6 464.7,1060.8" fill="#fff" stroke="#000" stroke-width="2.5" stroke-linejoin="round"/>
<path d="M420.8,863.2L387.8,878.2Q381.2,881.2 377.5,887.4L377.4,887.6Q373.8,893.6 374.3,900.6L377.6,945.3Q378.2,953.2 372.3,958.5L352.4,976.1Q349.4,978.8 347.9,982.5L347.9,982.5Q346.4,986.2 346.4,990.3L346.4,1021.2Q346.4,1031.2 338.9,1037.9L328.7,1047.1Q321.2,1053.8 311.4,1052.1L280.3,1047.0Q271.4,1045.5 263.3,1049.4L209.4,1075.5Q198.3,1080.8 190.7,1090.4L190.7,1090.4Q183.0,1100.0 183.7,1112.3L184.0,1116.2Q184.5,1125.0 191.4,1130.5L192.8,1131.6Q198.3,1136.0 205.2,1134.5L207.6,1134.0Q212.0,1133.0 215.6,1130.3L219.2,1127.6" fill="none" stroke="#000" stroke-width="14.5" stroke-linecap="butt" stroke-linejoin="round"/><path d="M420.8,863.2L387.8,878.2Q381.2,881.2 377.5,887.4L377.4,887.6Q373.8,893.6 374.3,900.6L377.6,945.3Q378.2,953.2 372.3,958.5L352.4,976.1Q349.4,978.8 347.9,982.5L347.9,982.5Q346.4,986.2 346.4,990.3L346.4,1021.2Q346.4,1031.2 338.9,1037.9L328.7,1047.1Q321.2,1053.8 311.4,1052.1L280.3,1047.0Q271.4,1045.5 263.3,1049.4L209.4,1075.5Q198.3,1080.8 190.7,1090.4L190.7,1090.4Q183.0,1100.0 183.7,1112.3L184.0,1116.2Q184.5,1125.0 191.4,1130.5L192.8,1131.6Q198.3,1136.0 205.2,1134.5L207.6,1134.0Q212.0,1133.0 215.6,1130.3L219.2,1127.6" fill="none" stroke="#fff" stroke-width="9.5" stroke-linecap="butt" stroke-linejoin="round"/><path d="M421.0,869.7Q426.5,867.2 425.0,864.0L423.0,859.4Q421.5,856.2 416.0,858.7" fill="#fff" stroke="#000" stroke-width="2.5" stroke-linejoin="round"/><path d="M220.8,1133.9Q225.6,1130.3 223.5,1127.5L220.5,1123.5Q218.4,1120.7 213.6,1124.3" fill="#fff" stroke="#000" stroke-width="2.5" stroke-linejoin="round"/>
<path d="M214.2,598.0L205.1,588.5Q200.0,583.2 193.1,580.6L193.1,580.6Q186.2,578.0 181.9,583.9L181.9,584.0Q177.5,590.0 180.4,596.8L182.8,602.3Q186.2,610.5 193.1,616.1L194.4,617.2Q200.0,621.8 206.9,624.0L213.8,626.2" fill="none" stroke="#000" stroke-width="13.5" stroke-linecap="butt" stroke-linejoin="round"/><path d="M214.2,598.0L205.1,588.5Q200.0,583.2 193.1,580.6L193.1,580.6Q186.2,578.0 181.9,583.9L181.9,584.0Q177.5,590.0 180.4,596.8L182.8,602.3Q186.2,610.5 193.1,616.1L194.4,617.2Q200.0,621.8 206.9,624.0L213.8,626.2" fill="none" stroke="#fff" stroke-width="8.7" stroke-linecap="butt" stroke-linejoin="round"/>
<path d="M113.0,620.5L121.5,621.2Q130.0,622.0 138.4,623.7L143.8,624.8Q157.5,627.5 168.8,635.8L182.0,645.5Q188.8,650.5 197.1,650.5L197.1,650.5Q205.5,650.5 210.2,643.6L211.8,641.2Q218.0,632.0 222.2,621.7L237.0,585.0" fill="none" stroke="#000" stroke-width="17" stroke-linecap="butt" stroke-linejoin="round"/><path d="M113.0,620.5L121.5,621.2Q130.0,622.0 138.4,623.7L143.8,624.8Q157.5,627.5 168.8,635.8L182.0,645.5Q188.8,650.5 197.1,650.5L197.1,650.5Q205.5,650.5 210.2,643.6L211.8,641.2Q218.0,632.0 222.2,621.7L237.0,585.0" fill="none" stroke="#fff" stroke-width="12.2" stroke-linecap="butt" stroke-linejoin="round"/>
<path d="M109.4,616.5Q110.0,611.5 115.0,612.1L128.3,613.9Q131.2,614.2 131.2,617.2L130.8,629.5Q130.8,632.5 127.8,632.1L113.0,630.2Q108.0,629.5 108.6,624.5Z" fill="#fff" stroke="#000" stroke-width="2.4" stroke-linejoin="round" stroke-linecap="round" />
<path d="M124.0,613.5C123.8,614.8 122.6,618.4 122.5,621.2C122.4,624.1 123.3,629.0 123.5,630.5" fill="none" stroke="#000" stroke-width="1.1" stroke-linejoin="round" stroke-linecap="round" /><path d="M127.8,614.0C127.5,615.3 126.3,618.8 126.2,621.8C126.2,624.7 127.1,629.9 127.2,631.5" fill="none" stroke="#000" stroke-width="1.1" stroke-linejoin="round" stroke-linecap="round" />
<path d="M236.1,588.4L243.0,573.7Q246.9,565.6 255.0,561.8L269.6,554.9" fill="none" stroke="#000" stroke-width="17" stroke-linecap="butt" stroke-linejoin="round"/><path d="M236.1,588.4L243.0,573.7Q246.9,565.6 255.0,561.8L269.6,554.9" fill="none" stroke="#fff" stroke-width="12.2" stroke-linecap="butt" stroke-linejoin="round"/><path d="M230.6,583.0Q227.8,588.9 231.4,590.6L237.4,593.4Q241.0,595.1 243.8,589.2" fill="#fff" stroke="#000" stroke-width="2.4" stroke-linejoin="round"/><path d="M270.5,562.6Q276.3,559.9 274.7,556.2L271.8,550.3Q270.2,546.6 264.3,549.4" fill="#fff" stroke="#000" stroke-width="2.4" stroke-linejoin="round"/>
<path d="M222.2,637.5 L221.8,637.3 L221.5,636.9 L221.2,636.5 L221.0,635.9 L220.9,635.3 L220.8,634.6 L220.8,633.9 L220.9,633.1 L221.0,632.2 L221.2,631.3 L221.5,630.4 L221.8,629.5 L222.2,628.6 L222.6,627.7 L223.1,626.8 L223.6,625.9 L224.2,625.1 L224.8,624.4 L225.4,623.7 L226.0,623.1 L226.6,622.5 L227.2,622.1 L227.8,621.7 L228.4,621.5 L228.9,621.3 L229.4,621.3 L229.9,621.3 L230.3,621.5 L247.1,630.0 L247.5,630.2 L247.8,630.6 L248.0,631.0 L248.2,631.6 L248.4,632.2 L248.4,632.9 L248.4,633.6 L248.4,634.4 L248.2,635.3 L248.0,636.2 L247.8,637.1 L247.4,638.0 L247.0,638.9 L246.6,639.8 L246.1,640.7 L245.6,641.6 L245.1,642.4 L244.5,643.1 L243.9,643.8 L243.3,644.4 L242.7,645.0 L242.1,645.4 L241.5,645.8 L240.9,646.0 L240.3,646.2 L239.8,646.2 L239.4,646.2 L238.9,646.0Z" fill="#fff" stroke="#000" stroke-width="1.6" stroke-linejoin="round" stroke-linecap="round" /><path d="M229.7,641.4 L229.3,641.1 L229.0,640.7 L228.8,640.3 L228.6,639.8 L228.4,639.1 L228.4,638.5 L228.4,637.7 L228.4,636.9 L228.6,636.0 L228.8,635.2 L229.0,634.2 L229.4,633.3 L229.7,632.4 L230.2,631.5 L230.7,630.6 L231.2,629.8 L231.7,628.9 L232.3,628.2 L232.9,627.5 L233.5,626.9 L234.1,626.4 L234.7,625.9 L235.3,625.6 L235.9,625.3 L236.4,625.1 L237.0,625.1 L237.4,625.1 L237.9,625.3" fill="none" stroke="#000" stroke-width="1.6" stroke-linejoin="round" stroke-linecap="round" /><path d="M232.6,642.8 L232.2,642.5 L231.9,642.2 L231.6,641.7 L231.4,641.2 L231.3,640.6 L231.2,639.9 L231.2,639.1 L231.3,638.3 L231.4,637.5 L231.6,636.6 L231.9,635.7 L232.2,634.8 L232.6,633.8 L233.0,632.9 L233.5,632.1 L234.0,631.2 L234.6,630.4 L235.1,629.6 L235.7,628.9 L236.4,628.3 L237.0,627.8 L237.6,627.4 L238.2,627.0 L238.7,626.7 L239.3,626.6 L239.8,626.5 L240.3,626.6 L240.7,626.7" fill="none" stroke="#000" stroke-width="1.6" stroke-linejoin="round" stroke-linecap="round" /><path d="M238.9,646.0 L238.5,645.8 L238.2,645.4 L238.0,645.0 L237.8,644.4 L237.6,643.8 L237.6,643.1 L237.6,642.4 L237.6,641.6 L237.8,640.7 L238.0,639.8 L238.2,638.9 L238.6,638.0 L239.0,637.1 L239.4,636.2 L239.9,635.3 L240.4,634.4 L240.9,633.6 L241.5,632.9 L242.1,632.2 L242.7,631.6 L243.3,631.0 L243.9,630.6 L244.5,630.2 L245.1,630.0 L245.7,629.8 L246.2,629.8 L246.6,629.8 L247.1,630.0" fill="none" stroke="#000" stroke-width="1.6" stroke-linejoin="round" stroke-linecap="round" />
<path d="M238.9,646.0 L238.2,645.4 L237.8,644.4 L237.6,643.1 L237.7,641.6 L238.0,639.8 L238.6,638.0 L239.4,636.2 L240.4,634.4 L241.6,632.9 L242.8,631.6 L244.0,630.6 L245.1,630.0 L246.2,629.8 L247.1,630.0 L247.8,630.6 L248.2,631.6 L248.4,632.9 L248.3,634.4 L248.0,636.2 L247.4,638.0 L246.6,639.8 L245.6,641.6 L244.4,643.1 L243.2,644.4 L242.0,645.4 L240.9,646.0 L239.8,646.2 L238.9,646.0Z" fill="#fff" stroke="#000" stroke-width="2.2" stroke-linejoin="round" stroke-linecap="round" />
<ellipse cx="243.0" cy="638.0" rx="4.5" ry="2.2" transform="rotate(117.0 243.0 638.0)" fill="none" stroke="#000" stroke-width="1.2"/>
<path d="M211.1,618.2 L230.5,626.3 L227.9,632.8 L208.5,624.7Z" fill="#fff" stroke="#000" stroke-width="1.8" stroke-linejoin="round" stroke-linecap="round" /><path d="M209.8,621.5 L229.2,629.5" fill="none" stroke="#000" stroke-width="0.8" stroke-linejoin="round" stroke-linecap="round" />
<path d="M226.1,583.2 L245.5,591.3 L242.9,597.8 L223.5,589.7Z" fill="#fff" stroke="#000" stroke-width="1.8" stroke-linejoin="round" stroke-linecap="round" /><path d="M224.8,586.5 L244.2,594.5" fill="none" stroke="#000" stroke-width="0.8" stroke-linejoin="round" stroke-linecap="round" />
<path d="M203.4,601.0 L211.5,588.3 L216.6,591.5 L208.5,604.2Z" fill="#fff" stroke="#000" stroke-width="1.8" stroke-linejoin="round" stroke-linecap="round" /><path d="M206.0,602.6 L214.0,589.9" fill="none" stroke="#000" stroke-width="0.8" stroke-linejoin="round" stroke-linecap="round" />
<path d="M209.1,603.6 L208.8,603.4 L208.5,603.1 L208.3,602.7 L208.1,602.3 L208.0,601.8 L208.0,601.3 L208.0,600.7 L208.0,600.0 L208.1,599.4 L208.3,598.7 L208.5,597.9 L208.8,597.2 L209.1,596.5 L209.4,595.8 L209.8,595.1 L210.3,594.5 L210.7,593.9 L211.2,593.3 L211.7,592.8 L212.2,592.4 L212.7,592.0 L213.2,591.7 L213.7,591.4 L214.2,591.2 L214.6,591.1 L215.1,591.1 L215.5,591.2 L215.9,591.4 L221.4,594.4 L221.7,594.6 L222.0,594.9 L222.2,595.3 L222.4,595.7 L222.5,596.2 L222.5,596.7 L222.5,597.3 L222.5,598.0 L222.4,598.6 L222.2,599.3 L222.0,600.1 L221.7,600.8 L221.4,601.5 L221.1,602.2 L220.7,602.9 L220.2,603.5 L219.8,604.1 L219.3,604.7 L218.8,605.2 L218.3,605.6 L217.8,606.0 L217.3,606.3 L216.8,606.6 L216.3,606.8 L215.9,606.9 L215.4,606.9 L215.0,606.8 L214.6,606.6Z" fill="#fff" stroke="#000" stroke-width="1.6" stroke-linejoin="round" stroke-linecap="round" />
<path d="M187.5,593.8 L195.0,595.0 L202.5,601.2 L212.5,608.8" fill="none" stroke="#000" stroke-width="2.0" stroke-linejoin="round" stroke-linecap="round" />
<path d="M250.0,642.0 L262.5,648.0" fill="none" stroke="#000" stroke-width="1.6" stroke-linejoin="round" stroke-linecap="round" /><path d="M275.0,656.2 L290.0,663.8" fill="none" stroke="#000" stroke-width="1.6" stroke-linejoin="round" stroke-linecap="round" />
<g transform="translate(269.2,650.8) rotate(0) scale(-0.94,0.94)" fill="none" stroke="#000" stroke-linecap="round" stroke-linejoin="round"><path d="M-10.6,0.6C-10.4,-0.3 -10.1,-3.0 -9.4,-5.0C-8.7,-7.0 -7.3,-9.8 -6.2,-11.2C-5.2,-12.7 -4.3,-13.2 -3.1,-13.4C-1.9,-13.6 -0.2,-13.4 1.2,-12.5C2.7,-11.6 4.4,-9.9 5.6,-8.1C6.8,-6.3 7.8,-4.0 8.4,-1.9C9.0,0.2 9.2,2.6 9.1,4.4C8.9,6.2 8.3,7.6 7.5,8.8C6.7,9.9 5.7,10.6 4.4,11.2C3.2,11.9 1.5,12.5 0.0,12.5C-1.5,12.5 -3.2,11.9 -4.4,11.2C-5.6,10.6 -6.7,9.2 -7.2,8.8" stroke-width="2.5"/><path d="M-6.2,-5.6C-5.6,-5.7 -3.8,-6.7 -2.5,-6.2C-1.2,-5.8 0.2,-4.6 1.2,-3.1C2.3,-1.6 3.6,0.6 4.1,2.5C4.6,4.4 4.7,6.8 4.4,8.1C4.1,9.4 2.8,10.2 2.5,10.6" stroke-width="1.3"/><path d="M-10.6,0.6 L-10,-3.5 L-8,-5.5 M-7.2,8.75 L-4.4,5.6 L-2.5,2.5 M-5,-10 L-3.7,-6.3 L-0.6,-5.6 L1.9,-8.1 M-8,-5 L-7.6,-1.5" stroke-width="1.3"/><path d="M2,-7.5 L5.5,-2 M5,-4 L7.5,2 M6,3 L7.5,7.5 M-1,-9.5 L0.5,-7" stroke-width="1.0"/></g>
<path d="M271.0,651.8 L275.0,656.2" fill="none" stroke="#000" stroke-width="1.6" stroke-linejoin="round" stroke-linecap="round" />
<g transform="translate(295.0,542.0) rotate(0) scale(0.94,0.94)" fill="none" stroke="#000" stroke-linecap="round" stroke-linejoin="round"><path d="M-10.6,0.6C-10.4,-0.3 -10.1,-3.0 -9.4,-5.0C-8.7,-7.0 -7.3,-9.8 -6.2,-11.2C-5.2,-12.7 -4.3,-13.2 -3.1,-13.4C-1.9,-13.6 -0.2,-13.4 1.2,-12.5C2.7,-11.6 4.4,-9.9 5.6,-8.1C6.8,-6.3 7.8,-4.0 8.4,-1.9C9.0,0.2 9.2,2.6 9.1,4.4C8.9,6.2 8.3,7.6 7.5,8.8C6.7,9.9 5.7,10.6 4.4,11.2C3.2,11.9 1.5,12.5 0.0,12.5C-1.5,12.5 -3.2,11.9 -4.4,11.2C-5.6,10.6 -6.7,9.2 -7.2,8.8" stroke-width="2.5"/><path d="M-6.2,-5.6C-5.6,-5.7 -3.8,-6.7 -2.5,-6.2C-1.2,-5.8 0.2,-4.6 1.2,-3.1C2.3,-1.6 3.6,0.6 4.1,2.5C4.6,4.4 4.7,6.8 4.4,8.1C4.1,9.4 2.8,10.2 2.5,10.6" stroke-width="1.3"/><path d="M-10.6,0.6 L-10,-3.5 L-8,-5.5 M-7.2,8.75 L-4.4,5.6 L-2.5,2.5 M-5,-10 L-3.7,-6.3 L-0.6,-5.6 L1.9,-8.1 M-8,-5 L-7.6,-1.5" stroke-width="1.3"/><path d="M2,-7.5 L5.5,-2 M5,-4 L7.5,2 M6,3 L7.5,7.5 M-1,-9.5 L0.5,-7" stroke-width="1.0"/><path d="M-15.5,8.8 L-2.5,2.5" stroke-width="1.5"/></g>
<path d="M132.1,723.2L137.5,729.1Q142.9,735.0 149.5,739.5L160.3,746.7Q170.8,753.8 182.5,758.5L182.5,758.5Q194.2,763.3 205.9,768.1L244.6,784.2" fill="none" stroke="#000" stroke-width="17.5" stroke-linecap="butt" stroke-linejoin="round"/><path d="M132.1,723.2L137.5,729.1Q142.9,735.0 149.5,739.5L160.3,746.7Q170.8,753.8 182.5,758.5L182.5,758.5Q194.2,763.3 205.9,768.1L244.6,784.2" fill="none" stroke="#fff" stroke-width="12.5" stroke-linecap="butt" stroke-linejoin="round"/>
<path d="M104.2,724.6C104.4,724.0 104.4,722.1 105.4,720.8C106.4,719.6 108.4,718.3 110.0,717.1C111.6,715.8 112.9,714.2 115.0,713.3C117.1,712.5 120.6,712.5 122.5,712.1C124.4,711.7 125.1,710.8 126.7,710.8C128.2,710.8 129.9,710.9 131.7,712.1C133.5,713.3 137.4,716.1 137.5,717.9C137.6,719.8 133.9,721.4 132.1,723.2C130.3,724.9 128.0,726.8 126.7,728.3C125.3,729.8 126.0,730.7 124.2,732.1C122.4,733.5 117.9,736.0 115.8,736.7C113.8,737.4 113.1,736.9 111.7,736.2C110.3,735.6 108.8,734.4 107.5,732.5C106.2,730.6 104.7,725.9 104.2,724.6Z" fill="#fff" stroke="#000" stroke-width="2.5" stroke-linejoin="round" stroke-linecap="round" />
<path d="M137.5,717.9 L126.7,728.3" fill="none" stroke="#000" stroke-width="2.5" stroke-linejoin="round" stroke-linecap="round" />
<path d="M113.8,718.8C114.1,719.8 114.3,723.1 115.8,725.0C117.4,726.9 121.7,729.3 122.9,730.2" fill="none" stroke="#000" stroke-width="1.1" stroke-linejoin="round" stroke-linecap="round" /><path d="M118.8,715.8C119.0,716.8 118.6,719.9 120.0,721.7C121.4,723.4 125.9,725.5 127.1,726.2" fill="none" stroke="#000" stroke-width="1.3" stroke-linejoin="round" stroke-linecap="round" />
<path d="M242.0,792.3 L241.3,791.8 L240.9,791.0 L240.6,789.8 L240.6,788.3 L240.8,786.6 L241.2,784.8 L241.9,783.0 L242.7,781.3 L243.6,779.7 L244.6,778.3 L245.6,777.3 L246.7,776.6 L247.6,776.3 L248.4,776.4 L249.1,776.9 L249.6,777.8 L249.8,779.0 L249.8,780.5 L249.6,782.1 L249.2,783.9 L248.5,785.7 L247.7,787.5 L246.8,789.0 L245.8,790.4 L244.8,791.4 L243.8,792.1 L242.8,792.4 L242.0,792.3Z" fill="#fff" stroke="#000" stroke-width="2.4" stroke-linejoin="round" stroke-linecap="round" />
<ellipse cx="245.2" cy="784.4" rx="4.0" ry="1.8" transform="rotate(112.0 245.2 784.4)" fill="#fff" stroke="#000" stroke-width="1.2"/>
<path d="M246.2,784.8 L255.0,786.2" fill="none" stroke="#000" stroke-width="1.6" stroke-linejoin="round" stroke-linecap="round" />
<g transform="translate(266.0,783.5) rotate(0) scale(-0.94,0.94)" fill="none" stroke="#000" stroke-linecap="round" stroke-linejoin="round"><path d="M-10.6,0.6C-10.4,-0.3 -10.1,-3.0 -9.4,-5.0C-8.7,-7.0 -7.3,-9.8 -6.2,-11.2C-5.2,-12.7 -4.3,-13.2 -3.1,-13.4C-1.9,-13.6 -0.2,-13.4 1.2,-12.5C2.7,-11.6 4.4,-9.9 5.6,-8.1C6.8,-6.3 7.8,-4.0 8.4,-1.9C9.0,0.2 9.2,2.6 9.1,4.4C8.9,6.2 8.3,7.6 7.5,8.8C6.7,9.9 5.7,10.6 4.4,11.2C3.2,11.9 1.5,12.5 0.0,12.5C-1.5,12.5 -3.2,11.9 -4.4,11.2C-5.6,10.6 -6.7,9.2 -7.2,8.8" stroke-width="2.5"/><path d="M-6.2,-5.6C-5.6,-5.7 -3.8,-6.7 -2.5,-6.2C-1.2,-5.8 0.2,-4.6 1.2,-3.1C2.3,-1.6 3.6,0.6 4.1,2.5C4.6,4.4 4.7,6.8 4.4,8.1C4.1,9.4 2.8,10.2 2.5,10.6" stroke-width="1.3"/><path d="M-10.6,0.6 L-10,-3.5 L-8,-5.5 M-7.2,8.75 L-4.4,5.6 L-2.5,2.5 M-5,-10 L-3.7,-6.3 L-0.6,-5.6 L1.9,-8.1 M-8,-5 L-7.6,-1.5" stroke-width="1.3"/><path d="M2,-7.5 L5.5,-2 M5,-4 L7.5,2 M6,3 L7.5,7.5 M-1,-9.5 L0.5,-7" stroke-width="1.0"/></g>
<path d="M267.5,788.7 L272.0,789.5" fill="none" stroke="#000" stroke-width="1.6" stroke-linejoin="round" stroke-linecap="round" />
<path d="M272.0,789.5 L283.8,791.5 L283.8,705.0 L295.6,710.6" fill="none" stroke="#000" stroke-width="1.6" stroke-linejoin="round" stroke-linecap="round" />
<path d="M315.3,729.4 L323.0,781.0" fill="none" stroke="#000" stroke-width="1.3" stroke-linejoin="round" stroke-linecap="round" /><path d="M338.8,720.0 L332.2,755.6 L331.2,781.0" fill="none" stroke="#000" stroke-width="1.3" stroke-linejoin="round" stroke-linecap="round" /><path d="M315.3,729.4 L331.2,751.9" fill="none" stroke="#000" stroke-width="1.3" stroke-linejoin="round" stroke-linecap="round" />
<ellipse cx="330.5" cy="787.5" rx="3.2" ry="6.0" transform="rotate(8.0 330.5 787.5)" fill="#fff" stroke="#000" stroke-width="1.3"/>
<ellipse cx="324.5" cy="787.5" rx="4.2" ry="6.5" transform="rotate(8.0 324.5 787.5)" fill="#fff" stroke="#000" stroke-width="1.3"/><ellipse cx="324.5" cy="787.5" rx="1.8" ry="3.0" transform="rotate(8.0 324.5 787.5)" fill="none" stroke="#000" stroke-width="1.3"/>
<path d="M306.5,715.1 L309.6,725.8 L313.6,728.4 L318.9,728.7 L323.8,724.9 L326.9,716.0" fill="#fff" stroke="#000" stroke-width="1.3" stroke-linejoin="round" stroke-linecap="round" />
<path d="M309.2,717.3 L315.4,718.7 L321.6,716.9 L325.6,715.1" fill="none" stroke="#000" stroke-width="1.3" stroke-linejoin="round" stroke-linecap="round" />
<path d="M321.6,685.0 L341.1,676.2 L341.1,705.4 L321.2,712.5Z" fill="#fff" stroke="#000" stroke-width="1.3" stroke-linejoin="round" stroke-linecap="round" />
<path d="M325.0,714.9 L324.7,714.7 L324.5,714.4 L324.2,714.1 L324.1,713.7 L323.9,713.2 L323.9,712.6 L323.9,712.1 L323.9,711.4 L324.0,710.8 L324.1,710.1 L324.3,709.4 L324.6,708.7 L324.9,708.0 L325.2,707.3 L325.6,706.7 L326.0,706.0 L326.4,705.4 L326.9,704.9 L327.4,704.4 L327.9,703.9 L328.4,703.6 L328.9,703.2 L329.3,703.0 L329.8,702.8 L330.2,702.7 L330.7,702.7 L331.1,702.8 L331.4,702.9 L344.3,709.7 L344.6,710.0 L344.8,710.3 L345.1,710.6 L345.2,711.0 L345.4,711.5 L345.4,712.1 L345.4,712.6 L345.4,713.3 L345.3,713.9 L345.2,714.6 L344.9,715.3 L344.7,716.0 L344.4,716.7 L344.1,717.3 L343.7,718.0 L343.3,718.6 L342.8,719.2 L342.4,719.8 L341.9,720.3 L341.4,720.7 L340.9,721.1 L340.4,721.4 L340.0,721.7 L339.5,721.9 L339.0,721.9 L338.6,722.0 L338.2,721.9 L337.9,721.8Z" fill="#fff" stroke="#000" stroke-width="1.5" stroke-linejoin="round" stroke-linecap="round" /><path d="M328.2,716.6 L327.9,716.4 L327.7,716.1 L327.4,715.8 L327.3,715.4 L327.1,714.9 L327.1,714.3 L327.1,713.8 L327.1,713.1 L327.2,712.5 L327.3,711.8 L327.6,711.1 L327.8,710.4 L328.1,709.7 L328.4,709.0 L328.8,708.4 L329.2,707.8 L329.7,707.2 L330.1,706.6 L330.6,706.1 L331.1,705.7 L331.6,705.3 L332.1,705.0 L332.5,704.7 L333.0,704.5 L333.5,704.4 L333.9,704.4 L334.3,704.5 L334.6,704.6" fill="none" stroke="#000" stroke-width="1.5" stroke-linejoin="round" stroke-linecap="round" /><path d="M330.8,718.0 L330.5,717.8 L330.2,717.5 L330.0,717.1 L329.8,716.7 L329.7,716.2 L329.6,715.7 L329.6,715.1 L329.7,714.5 L329.8,713.8 L329.9,713.2 L330.1,712.5 L330.4,711.8 L330.7,711.1 L331.0,710.4 L331.4,709.7 L331.8,709.1 L332.2,708.5 L332.7,708.0 L333.2,707.5 L333.6,707.0 L334.1,706.6 L334.6,706.3 L335.1,706.1 L335.6,705.9 L336.0,705.8 L336.4,705.8 L336.8,705.9 L337.2,706.0" fill="none" stroke="#000" stroke-width="1.5" stroke-linejoin="round" stroke-linecap="round" /><path d="M334.0,719.7 L333.7,719.5 L333.4,719.2 L333.2,718.8 L333.0,718.4 L332.9,717.9 L332.8,717.4 L332.8,716.8 L332.9,716.2 L333.0,715.6 L333.1,714.9 L333.3,714.2 L333.6,713.5 L333.9,712.8 L334.2,712.1 L334.6,711.5 L335.0,710.8 L335.4,710.2 L335.9,709.7 L336.4,709.2 L336.9,708.7 L337.3,708.3 L337.8,708.0 L338.3,707.8 L338.8,707.6 L339.2,707.5 L339.7,707.5 L340.0,707.6 L340.4,707.7" fill="none" stroke="#000" stroke-width="1.5" stroke-linejoin="round" stroke-linecap="round" /><path d="M337.9,721.8 L337.6,721.5 L337.3,721.3 L337.1,720.9 L336.9,720.5 L336.8,720.0 L336.7,719.5 L336.7,718.9 L336.7,718.2 L336.8,717.6 L337.0,716.9 L337.2,716.2 L337.4,715.5 L337.7,714.8 L338.1,714.2 L338.4,713.5 L338.8,712.9 L339.3,712.3 L339.7,711.7 L340.2,711.2 L340.7,710.8 L341.2,710.4 L341.7,710.1 L342.2,709.8 L342.6,709.6 L343.1,709.6 L343.5,709.5 L343.9,709.6 L344.3,709.7" fill="none" stroke="#000" stroke-width="1.5" stroke-linejoin="round" stroke-linecap="round" /><ellipse cx="341.1" cy="715.8" rx="3.2" ry="1.6" transform="rotate(118.0 341.1 715.8)" fill="none" stroke="#000" stroke-width="1.5"/>
<path d="M344.3,709.7 L344.6,710.0 L344.8,710.3 L345.1,710.6 L345.2,711.0 L345.4,711.5 L345.4,712.1 L345.4,712.6 L345.4,713.3 L345.3,713.9 L345.2,714.6 L344.9,715.3 L344.7,716.0 L344.4,716.7 L344.1,717.3 L343.7,718.0 L343.3,718.6 L342.8,719.2 L342.4,719.8 L341.9,720.3 L341.4,720.7 L340.9,721.1 L340.4,721.4 L340.0,721.7 L339.5,721.9 L339.0,721.9 L338.6,722.0 L338.2,721.9 L337.9,721.8" fill="none" stroke="#000" stroke-width="2.4" stroke-linejoin="round" stroke-linecap="round" />
<path d="M298.1,673.1 L321.6,685.0 L321.2,712.5 L314.5,708.5 L314.1,704.1 L306.5,700.1 L305.7,703.6 L299.0,705.4 L296.8,697.9Z" fill="#fff" stroke="#000" stroke-width="1.3" stroke-linejoin="round" stroke-linecap="round" />
<path d="M301.7,681.1 L316.7,688.6 L316.3,701.0 L301.7,693.5Z" fill="#fff" stroke="#000" stroke-width="1.6" stroke-linejoin="round" stroke-linecap="round" />
<path d="M303.5,683.7 L315.0,689.9 L314.7,698.8 L303.5,692.1Z" fill="none" stroke="#000" stroke-width="1.0" stroke-linejoin="round" stroke-linecap="round" />
<path d="M304.3,691.7 L309.2,685.9 L310.5,697.9 L313.6,689.9 L314.1,697.9" fill="none" stroke="#000" stroke-width="2.0" stroke-linejoin="round" stroke-linecap="round" />
<path d="M306.5,687.3 L309.2,694.3" fill="none" stroke="#000" stroke-width="1.6" stroke-linejoin="round" stroke-linecap="round" />
<ellipse cx="299.9" cy="699.6" rx="1.6" ry="2.2" transform="rotate(0.0 299.9 699.6)" fill="none" stroke="#000" stroke-width="1.1"/><ellipse cx="305.2" cy="701.0" rx="1.6" ry="2.2" transform="rotate(0.0 305.2 701.0)" fill="none" stroke="#000" stroke-width="1.1"/><ellipse cx="317.2" cy="709.4" rx="1.6" ry="2.2" transform="rotate(0.0 317.2 709.4)" fill="none" stroke="#000" stroke-width="1.1"/>
<path d="M299.0,705.4 L301.2,707.2 L306.5,704.1" fill="none" stroke="#000" stroke-width="1.3" stroke-linejoin="round" stroke-linecap="round" />
<path d="M298.1,673.1 L305.7,667.3 L329.6,678.8 L341.1,676.2 L321.6,685.0Z" fill="#fff" stroke="#000" stroke-width="1.3" stroke-linejoin="round" stroke-linecap="round" />
<ellipse cx="322.3" cy="683.3" rx="2.6" ry="1.6" transform="rotate(0.0 322.3 683.3)" fill="#fff" stroke="#000" stroke-width="1.1"/>
<ellipse cx="302.6" cy="671.3" rx="2.6" ry="1.6" transform="rotate(0.0 302.6 671.3)" fill="#fff" stroke="#000" stroke-width="1.1"/>
<path d="M303.5,666.0 L303.7,666.1 L304.0,666.3 L304.2,666.6 L304.4,666.9 L304.5,667.2 L304.6,667.6 L304.7,668.1 L304.7,668.5 L304.7,669.1 L304.7,669.6 L304.6,670.1 L304.5,670.7 L304.3,671.2 L304.1,671.8 L303.9,672.3 L303.7,672.8 L303.4,673.3 L303.1,673.8 L302.8,674.2 L302.5,674.6 L302.1,675.0 L301.8,675.3 L301.5,675.5 L301.1,675.7 L300.8,675.8 L300.5,675.8 L300.2,675.8 L299.9,675.8 L291.5,672.7 L291.2,672.5 L291.0,672.3 L290.8,672.1 L290.6,671.8 L290.5,671.4 L290.3,671.0 L290.3,670.6 L290.2,670.1 L290.3,669.6 L290.3,669.1 L290.4,668.6 L290.5,668.0 L290.6,667.4 L290.8,666.9 L291.1,666.3 L291.3,665.8 L291.6,665.3 L291.9,664.9 L292.2,664.4 L292.5,664.0 L292.8,663.7 L293.2,663.4 L293.5,663.2 L293.8,663.0 L294.2,662.9 L294.5,662.8 L294.8,662.8 L295.1,662.9Z" fill="#fff" stroke="#000" stroke-width="1.5" stroke-linejoin="round" stroke-linecap="round" /><path d="M300.5,664.9 L300.8,665.1 L301.0,665.2 L301.2,665.5 L301.4,665.8 L301.6,666.1 L301.7,666.5 L301.7,667.0 L301.8,667.5 L301.8,668.0 L301.7,668.5 L301.6,669.0 L301.5,669.6 L301.4,670.1 L301.2,670.7 L301.0,671.2 L300.7,671.8 L300.4,672.3 L300.2,672.7 L299.8,673.2 L299.5,673.5 L299.2,673.9 L298.9,674.2 L298.5,674.4 L298.2,674.6 L297.8,674.7 L297.5,674.8 L297.2,674.8 L296.9,674.7" fill="none" stroke="#000" stroke-width="1.5" stroke-linejoin="round" stroke-linecap="round" /><path d="M297.6,663.8 L297.9,664.0 L298.1,664.2 L298.3,664.4 L298.5,664.7 L298.6,665.1 L298.7,665.5 L298.8,665.9 L298.8,666.4 L298.8,666.9 L298.8,667.4 L298.7,668.0 L298.6,668.5 L298.4,669.1 L298.2,669.6 L298.0,670.2 L297.8,670.7 L297.5,671.2 L297.2,671.6 L296.9,672.1 L296.6,672.5 L296.3,672.8 L295.9,673.1 L295.6,673.3 L295.2,673.5 L294.9,673.6 L294.6,673.7 L294.3,673.7 L294.0,673.6" fill="none" stroke="#000" stroke-width="1.5" stroke-linejoin="round" stroke-linecap="round" /><path d="M295.1,662.9 L295.3,663.0 L295.6,663.2 L295.8,663.5 L296.0,663.8 L296.1,664.1 L296.2,664.5 L296.3,665.0 L296.3,665.4 L296.3,666.0 L296.3,666.5 L296.2,667.0 L296.1,667.6 L295.9,668.1 L295.7,668.7 L295.5,669.2 L295.3,669.7 L295.0,670.2 L294.7,670.7 L294.4,671.1 L294.1,671.5 L293.7,671.9 L293.4,672.2 L293.1,672.4 L292.7,672.6 L292.4,672.7 L292.1,672.7 L291.8,672.7 L291.5,672.7" fill="none" stroke="#000" stroke-width="1.5" stroke-linejoin="round" stroke-linecap="round" />
<path d="M309.6,713.1 L309.9,713.2 L310.1,713.4 L310.3,713.7 L310.4,714.0 L310.6,714.4 L310.6,714.8 L310.7,715.2 L310.7,715.7 L310.6,716.2 L310.5,716.7 L310.4,717.3 L310.2,717.8 L310.0,718.4 L309.8,718.9 L309.5,719.4 L309.2,719.9 L308.9,720.4 L308.6,720.8 L308.2,721.2 L307.9,721.6 L307.5,721.9 L307.2,722.2 L306.8,722.4 L306.5,722.5 L306.1,722.6 L305.8,722.6 L305.5,722.6 L305.2,722.5 L297.7,719.0 L297.4,718.8 L297.2,718.6 L297.0,718.3 L296.9,718.0 L296.8,717.6 L296.7,717.2 L296.7,716.8 L296.7,716.3 L296.7,715.8 L296.8,715.3 L297.0,714.8 L297.1,714.2 L297.3,713.7 L297.6,713.1 L297.8,712.6 L298.1,712.1 L298.4,711.6 L298.8,711.2 L299.1,710.8 L299.5,710.4 L299.8,710.1 L300.2,709.9 L300.5,709.7 L300.9,709.5 L301.2,709.4 L301.5,709.4 L301.8,709.4 L302.1,709.5Z" fill="#fff" stroke="#000" stroke-width="1.5" stroke-linejoin="round" stroke-linecap="round" /><path d="M307.0,711.8 L307.3,712.0 L307.5,712.2 L307.7,712.5 L307.8,712.8 L307.9,713.2 L308.0,713.6 L308.0,714.0 L308.0,714.5 L308.0,715.0 L307.9,715.5 L307.8,716.0 L307.6,716.6 L307.4,717.1 L307.2,717.7 L306.9,718.2 L306.6,718.7 L306.3,719.1 L306.0,719.6 L305.6,720.0 L305.3,720.3 L304.9,720.7 L304.5,720.9 L304.2,721.1 L303.8,721.3 L303.5,721.4 L303.2,721.4 L302.9,721.3 L302.6,721.3" fill="none" stroke="#000" stroke-width="1.5" stroke-linejoin="round" stroke-linecap="round" /><path d="M304.4,710.6 L304.6,710.8 L304.9,711.0 L305.0,711.2 L305.2,711.6 L305.3,711.9 L305.4,712.3 L305.4,712.8 L305.4,713.2 L305.3,713.7 L305.2,714.3 L305.1,714.8 L305.0,715.3 L304.8,715.9 L304.5,716.4 L304.3,716.9 L304.0,717.4 L303.7,717.9 L303.3,718.3 L303.0,718.8 L302.6,719.1 L302.3,719.4 L301.9,719.7 L301.5,719.9 L301.2,720.0 L300.9,720.1 L300.5,720.1 L300.2,720.1 L300.0,720.0" fill="none" stroke="#000" stroke-width="1.5" stroke-linejoin="round" stroke-linecap="round" /><path d="M302.1,709.5 L302.4,709.7 L302.6,709.9 L302.8,710.2 L302.9,710.5 L303.0,710.9 L303.1,711.3 L303.1,711.7 L303.1,712.2 L303.1,712.7 L303.0,713.2 L302.9,713.7 L302.7,714.3 L302.5,714.8 L302.3,715.4 L302.0,715.9 L301.7,716.4 L301.4,716.8 L301.1,717.3 L300.7,717.7 L300.4,718.0 L300.0,718.4 L299.6,718.6 L299.3,718.8 L298.9,719.0 L298.6,719.1 L298.3,719.1 L298.0,719.0 L297.7,719.0" fill="none" stroke="#000" stroke-width="1.5" stroke-linejoin="round" stroke-linecap="round" />
<path d="M336.6,673.1 L336.5,673.8 L336.3,674.6 L335.9,675.3 L335.3,676.0 L334.5,676.6 L333.6,677.2 L332.6,677.7 L331.5,678.2 L330.2,678.7 L328.9,679.0 L327.4,679.3 L326.0,679.5 L324.5,679.6 L322.9,679.7 L321.4,679.6 L319.9,679.5 L318.4,679.3 L317.0,679.0 L315.6,678.7 L314.4,678.2 L313.2,677.7 L312.2,677.2 L311.3,676.6 L310.6,676.0 L310.0,675.3 L309.6,674.6 L309.3,673.8 L309.2,673.1 L309.2,645.7 L309.3,644.9 L309.6,644.2 L310.0,643.5 L310.6,642.8 L311.3,642.2 L312.2,641.6 L313.2,641.0 L314.4,640.5 L315.6,640.1 L317.0,639.7 L318.4,639.5 L319.9,639.3 L321.4,639.1 L322.9,639.1 L324.5,639.1 L326.0,639.3 L327.4,639.5 L328.9,639.7 L330.2,640.1 L331.5,640.5 L332.6,641.0 L333.6,641.6 L334.5,642.2 L335.3,642.8 L335.9,643.5 L336.3,644.2 L336.5,644.9 L336.6,645.7Z" fill="#fff" stroke="#000" stroke-width="1.3" stroke-linejoin="round" stroke-linecap="round" /><path d="M336.6,645.7 L336.5,646.4 L336.3,647.1 L335.9,647.8 L335.3,648.5 L334.5,649.2 L333.6,649.8 L332.6,650.3 L331.5,650.8 L330.2,651.2 L328.9,651.6 L327.4,651.9 L326.0,652.1 L324.5,652.2 L322.9,652.2 L321.4,652.2 L319.9,652.1 L318.4,651.9 L317.0,651.6 L315.6,651.2 L314.4,650.8 L313.2,650.3 L312.2,649.8 L311.3,649.2 L310.6,648.5 L310.0,647.8 L309.6,647.1 L309.3,646.4 L309.2,645.7" fill="none" stroke="#000" stroke-width="1.3" stroke-linejoin="round" stroke-linecap="round" />
<path d="M331.3,645.8 L331.3,646.3 L331.1,646.7 L330.8,647.2 L330.5,647.6 L330.0,648.0 L329.5,648.4 L328.9,648.7 L328.2,649.0 L327.4,649.3 L326.6,649.5 L325.7,649.6 L324.8,649.8 L323.9,649.8 L322.9,649.9 L322.0,649.8 L321.1,649.8 L320.1,649.6 L319.3,649.5 L318.5,649.3 L317.7,649.0 L317.0,648.7 L316.4,648.4 L315.8,648.0 L315.4,647.6 L315.0,647.2 L314.7,646.7 L314.6,646.3 L314.5,645.8 L314.5,642.6 L314.6,642.1 L314.7,641.7 L315.0,641.2 L315.4,640.8 L315.8,640.4 L316.4,640.1 L317.0,639.7 L317.7,639.4 L318.5,639.2 L319.3,638.9 L320.1,638.8 L321.1,638.6 L322.0,638.6 L322.9,638.5 L323.9,638.6 L324.8,638.6 L325.7,638.8 L326.6,638.9 L327.4,639.2 L328.2,639.4 L328.9,639.7 L329.5,640.1 L330.0,640.4 L330.5,640.8 L330.8,641.2 L331.1,641.7 L331.3,642.1 L331.3,642.6Z" fill="#fff" stroke="#000" stroke-width="1.3" stroke-linejoin="round" stroke-linecap="round" /><path d="M331.3,642.6 L331.3,643.0 L331.1,643.5 L330.8,643.9 L330.5,644.3 L330.0,644.7 L329.5,645.1 L328.9,645.4 L328.2,645.7 L327.4,646.0 L326.6,646.2 L325.7,646.4 L324.8,646.5 L323.9,646.6 L322.9,646.6 L322.0,646.6 L321.1,646.5 L320.1,646.4 L319.3,646.2 L318.5,646.0 L317.7,645.7 L317.0,645.4 L316.4,645.1 L315.8,644.7 L315.4,644.3 L315.0,643.9 L314.7,643.5 L314.6,643.0 L314.5,642.6" fill="none" stroke="#000" stroke-width="1.3" stroke-linejoin="round" stroke-linecap="round" />
<path d="M333.1,666.9 L338.4,663.8 L341.5,665.1 L341.1,677.5 L336.6,681.1 L333.1,679.3Z" fill="#fff" stroke="#000" stroke-width="1.3" stroke-linejoin="round" stroke-linecap="round" />
<path d="M333.1,666.9 L336.2,668.5 L341.5,665.1" fill="none" stroke="#000" stroke-width="1.3" stroke-linejoin="round" stroke-linecap="round" /><path d="M336.2,668.5 L336.6,681.1" fill="none" stroke="#000" stroke-width="1.3" stroke-linejoin="round" stroke-linecap="round" />
<path d="M329.6,685.5 L340.2,681.1 L344.2,680.2 L344.4,684.6 L334.9,689.9 L330.0,688.6Z" fill="#fff" stroke="#000" stroke-width="1.3" stroke-linejoin="round" stroke-linecap="round" />
<path d="M329.6,685.5 L334.4,686.5 L344.2,681.9" fill="none" stroke="#000" stroke-width="1.3" stroke-linejoin="round" stroke-linecap="round" /><path d="M334.4,686.5 L334.9,689.9" fill="none" stroke="#000" stroke-width="1.3" stroke-linejoin="round" stroke-linecap="round" />
<path d="M372.5,1066.2 L386.9,1057.5 L399.4,1065.6 L385.0,1073.5Z" fill="#fff" stroke="#000" stroke-width="1.3" stroke-linejoin="round" stroke-linecap="round" />
<ellipse cx="388.8" cy="1063.1" rx="2.2" ry="1.4" transform="rotate(0.0 388.8 1063.1)" fill="none" stroke="#000" stroke-width="1.0"/>
<path d="M381.9,1073.8 L379.4,1103.8" fill="none" stroke="#000" stroke-width="1.3" stroke-linejoin="round" stroke-linecap="round" /><path d="M385.0,1073.5 L384.4,1106.2" fill="none" stroke="#000" stroke-width="1.3" stroke-linejoin="round" stroke-linecap="round" />
<path d="M385.2,1105.4 L384.9,1105.5 L384.6,1105.5 L384.3,1105.5 L383.9,1105.4 L383.6,1105.2 L383.2,1105.0 L382.9,1104.7 L382.5,1104.4 L382.2,1104.0 L381.9,1103.6 L381.5,1103.2 L381.2,1102.7 L381.0,1102.2 L380.7,1101.6 L380.5,1101.1 L380.3,1100.6 L380.2,1100.0 L380.1,1099.5 L380.0,1098.9 L380.0,1098.4 L380.0,1098.0 L380.0,1097.5 L380.1,1097.1 L380.3,1096.8 L380.4,1096.4 L380.6,1096.2 L380.8,1096.0 L381.1,1095.8 L392.0,1091.2 L392.2,1091.1 L392.5,1091.1 L392.9,1091.1 L393.2,1091.2 L393.5,1091.4 L393.9,1091.6 L394.3,1091.9 L394.6,1092.2 L394.9,1092.6 L395.3,1093.0 L395.6,1093.5 L395.9,1093.9 L396.1,1094.5 L396.4,1095.0 L396.6,1095.5 L396.8,1096.1 L396.9,1096.6 L397.0,1097.2 L397.1,1097.7 L397.1,1098.2 L397.1,1098.7 L397.1,1099.1 L397.0,1099.5 L396.9,1099.9 L396.7,1100.2 L396.5,1100.4 L396.3,1100.6 L396.0,1100.8Z" fill="#fff" stroke="#000" stroke-width="1.5" stroke-linejoin="round" stroke-linecap="round" /><path d="M389.0,1103.8 L388.7,1103.9 L388.4,1103.9 L388.1,1103.9 L387.7,1103.8 L387.4,1103.6 L387.0,1103.4 L386.7,1103.1 L386.3,1102.8 L386.0,1102.4 L385.7,1102.0 L385.3,1101.5 L385.1,1101.1 L384.8,1100.6 L384.5,1100.0 L384.3,1099.5 L384.1,1098.9 L384.0,1098.4 L383.9,1097.8 L383.8,1097.3 L383.8,1096.8 L383.8,1096.3 L383.8,1095.9 L383.9,1095.5 L384.1,1095.1 L384.2,1094.8 L384.4,1094.6 L384.6,1094.4 L384.9,1094.2" fill="none" stroke="#000" stroke-width="1.5" stroke-linejoin="round" stroke-linecap="round" /><path d="M392.2,1102.4 L391.9,1102.5 L391.6,1102.5 L391.3,1102.5 L391.0,1102.4 L390.6,1102.2 L390.3,1102.0 L389.9,1101.7 L389.6,1101.4 L389.3,1101.0 L388.9,1100.6 L388.6,1100.2 L388.3,1099.7 L388.0,1099.2 L387.8,1098.6 L387.6,1098.1 L387.4,1097.5 L387.3,1097.0 L387.2,1096.5 L387.1,1095.9 L387.1,1095.4 L387.1,1095.0 L387.1,1094.5 L387.2,1094.1 L387.3,1093.7 L387.5,1093.4 L387.7,1093.2 L387.9,1093.0 L388.2,1092.8" fill="none" stroke="#000" stroke-width="1.5" stroke-linejoin="round" stroke-linecap="round" /><path d="M396.0,1100.8 L395.8,1100.9 L395.5,1100.9 L395.1,1100.9 L394.8,1100.8 L394.5,1100.6 L394.1,1100.4 L393.7,1100.1 L393.4,1099.8 L393.1,1099.4 L392.7,1099.0 L392.4,1098.5 L392.1,1098.1 L391.9,1097.5 L391.6,1097.0 L391.4,1096.5 L391.2,1095.9 L391.1,1095.4 L391.0,1094.8 L390.9,1094.3 L390.9,1093.8 L390.9,1093.3 L390.9,1092.9 L391.0,1092.5 L391.1,1092.1 L391.3,1091.8 L391.5,1091.6 L391.7,1091.4 L392.0,1091.2" fill="none" stroke="#000" stroke-width="1.5" stroke-linejoin="round" stroke-linecap="round" />
<path d="M324.4,1104.4 L323.8,1123.8" fill="none" stroke="#000" stroke-width="1.3" stroke-linejoin="round" stroke-linecap="round" /><path d="M339.4,1098.1 L338.8,1125.0" fill="none" stroke="#000" stroke-width="1.3" stroke-linejoin="round" stroke-linecap="round" />
<path d="M330.6,1136.2 L330.6,1148.8 L335.0,1152.8 L346.2,1153.2 L351.9,1148.8 L352.5,1137.5Z" fill="#fff" stroke="#000" stroke-width="1.3" stroke-linejoin="round" stroke-linecap="round" />
<path d="M356.2,1132.5 L355.6,1150.0 L360.0,1154.0 L370.0,1148.8 L372.5,1136.2 L375.6,1126.2Z" fill="#fff" stroke="#000" stroke-width="1.3" stroke-linejoin="round" stroke-linecap="round" />
<path d="M360.0,1131.2 L359.4,1150.6" fill="none" stroke="#000" stroke-width="1.3" stroke-linejoin="round" stroke-linecap="round" />
<path d="M363.8,1130.0 L363.1,1151.5" fill="none" stroke="#000" stroke-width="1.3" stroke-linejoin="round" stroke-linecap="round" />
<path d="M367.5,1127.5 L366.2,1150.0" fill="none" stroke="#000" stroke-width="1.3" stroke-linejoin="round" stroke-linecap="round" />
<path d="M371.2,1125.6 L369.8,1146.9" fill="none" stroke="#000" stroke-width="1.3" stroke-linejoin="round" stroke-linecap="round" />
<path d="M381.5,1131.4 L381.2,1131.6 L380.9,1131.7 L380.5,1131.7 L380.1,1131.7 L379.6,1131.5 L379.2,1131.4 L378.7,1131.1 L378.2,1130.8 L377.7,1130.4 L377.3,1130.0 L376.8,1129.6 L376.3,1129.1 L375.9,1128.5 L375.5,1127.9 L375.2,1127.4 L374.8,1126.7 L374.6,1126.1 L374.3,1125.5 L374.1,1124.9 L374.0,1124.3 L373.9,1123.8 L373.9,1123.2 L373.9,1122.8 L373.9,1122.3 L374.1,1121.9 L374.2,1121.6 L374.5,1121.3 L374.7,1121.1 L386.6,1113.3 L386.9,1113.2 L387.3,1113.1 L387.7,1113.0 L388.1,1113.1 L388.5,1113.2 L389.0,1113.4 L389.4,1113.6 L389.9,1113.9 L390.4,1114.3 L390.9,1114.7 L391.3,1115.2 L391.8,1115.7 L392.2,1116.2 L392.6,1116.8 L393.0,1117.4 L393.3,1118.0 L393.6,1118.6 L393.8,1119.2 L394.0,1119.8 L394.1,1120.4 L394.2,1121.0 L394.3,1121.5 L394.3,1122.0 L394.2,1122.4 L394.1,1122.8 L393.9,1123.2 L393.7,1123.5 L393.4,1123.7Z" fill="#fff" stroke="#000" stroke-width="1.6" stroke-linejoin="round" stroke-linecap="round" /><path d="M385.1,1129.1 L384.8,1129.3 L384.4,1129.4 L384.0,1129.4 L383.6,1129.3 L383.2,1129.2 L382.7,1129.0 L382.2,1128.8 L381.8,1128.5 L381.3,1128.1 L380.8,1127.7 L380.4,1127.2 L379.9,1126.7 L379.5,1126.2 L379.1,1125.6 L378.7,1125.0 L378.4,1124.4 L378.1,1123.8 L377.9,1123.2 L377.7,1122.6 L377.5,1122.0 L377.5,1121.5 L377.4,1120.9 L377.4,1120.4 L377.5,1120.0 L377.6,1119.6 L377.8,1119.2 L378.0,1119.0 L378.3,1118.7" fill="none" stroke="#000" stroke-width="1.6" stroke-linejoin="round" stroke-linecap="round" /><path d="M388.0,1127.2 L387.7,1127.3 L387.4,1127.4 L387.0,1127.4 L386.6,1127.4 L386.1,1127.3 L385.7,1127.1 L385.2,1126.9 L384.7,1126.5 L384.3,1126.2 L383.8,1125.8 L383.3,1125.3 L382.9,1124.8 L382.5,1124.3 L382.1,1123.7 L381.7,1123.1 L381.4,1122.5 L381.1,1121.9 L380.8,1121.3 L380.7,1120.7 L380.5,1120.1 L380.4,1119.5 L380.4,1119.0 L380.4,1118.5 L380.5,1118.0 L380.6,1117.6 L380.8,1117.3 L381.0,1117.0 L381.3,1116.8" fill="none" stroke="#000" stroke-width="1.6" stroke-linejoin="round" stroke-linecap="round" /><path d="M391.0,1125.2 L390.7,1125.4 L390.4,1125.5 L390.0,1125.5 L389.6,1125.5 L389.1,1125.3 L388.7,1125.2 L388.2,1124.9 L387.7,1124.6 L387.2,1124.2 L386.8,1123.8 L386.3,1123.4 L385.8,1122.9 L385.4,1122.3 L385.0,1121.7 L384.7,1121.2 L384.3,1120.5 L384.1,1119.9 L383.8,1119.3 L383.6,1118.7 L383.5,1118.1 L383.4,1117.6 L383.4,1117.0 L383.4,1116.6 L383.4,1116.1 L383.6,1115.7 L383.7,1115.4 L384.0,1115.1 L384.2,1114.9" fill="none" stroke="#000" stroke-width="1.6" stroke-linejoin="round" stroke-linecap="round" /><path d="M393.4,1123.7 L393.1,1123.8 L392.7,1123.9 L392.3,1124.0 L391.9,1123.9 L391.5,1123.8 L391.0,1123.6 L390.6,1123.4 L390.1,1123.1 L389.6,1122.7 L389.1,1122.3 L388.7,1121.8 L388.2,1121.3 L387.8,1120.8 L387.4,1120.2 L387.0,1119.6 L386.7,1119.0 L386.4,1118.4 L386.2,1117.8 L386.0,1117.2 L385.9,1116.6 L385.8,1116.0 L385.7,1115.5 L385.7,1115.0 L385.8,1114.6 L385.9,1114.2 L386.1,1113.8 L386.3,1113.5 L386.6,1113.3" fill="none" stroke="#000" stroke-width="1.6" stroke-linejoin="round" stroke-linecap="round" />
<path d="M338.8,1125.6 L383.8,1105.0 L385.6,1107.8 L385.6,1113.1 L345.0,1136.2 L339.4,1131.9Z" fill="#fff" stroke="#000" stroke-width="1.3" stroke-linejoin="round" stroke-linecap="round" />
<path d="M338.8,1125.6 L345.0,1130.0 L385.4,1108.1" fill="none" stroke="#000" stroke-width="1.3" stroke-linejoin="round" stroke-linecap="round" /><path d="M345.0,1130.0 L345.0,1136.2" fill="none" stroke="#000" stroke-width="1.3" stroke-linejoin="round" stroke-linecap="round" />
<path d="M333.6,1126.1 L333.8,1126.1 L334.1,1126.1 L334.4,1126.2 L334.7,1126.4 L335.0,1126.6 L335.3,1126.9 L335.5,1127.2 L335.8,1127.6 L336.0,1128.0 L336.2,1128.5 L336.4,1129.0 L336.6,1129.5 L336.7,1130.0 L336.8,1130.6 L336.9,1131.1 L337.0,1131.7 L337.0,1132.2 L337.0,1132.8 L336.9,1133.3 L336.8,1133.8 L336.7,1134.2 L336.6,1134.6 L336.4,1135.0 L336.2,1135.3 L336.0,1135.5 L335.7,1135.7 L335.5,1135.9 L335.2,1135.9 L317.1,1138.9 L316.8,1138.9 L316.5,1138.9 L316.2,1138.8 L315.9,1138.6 L315.6,1138.4 L315.4,1138.1 L315.1,1137.8 L314.8,1137.4 L314.6,1137.0 L314.4,1136.5 L314.2,1136.0 L314.0,1135.5 L313.9,1135.0 L313.8,1134.4 L313.7,1133.9 L313.7,1133.3 L313.7,1132.8 L313.7,1132.2 L313.7,1131.7 L313.8,1131.2 L313.9,1130.8 L314.1,1130.4 L314.2,1130.0 L314.4,1129.7 L314.7,1129.5 L314.9,1129.3 L315.2,1129.1 L315.4,1129.1Z" fill="#fff" stroke="#000" stroke-width="1.5" stroke-linejoin="round" stroke-linecap="round" /><path d="M328.1,1127.0 L328.4,1127.0 L328.7,1127.0 L329.0,1127.1 L329.3,1127.3 L329.6,1127.5 L329.8,1127.8 L330.1,1128.1 L330.4,1128.5 L330.6,1128.9 L330.8,1129.4 L331.0,1129.9 L331.2,1130.4 L331.3,1130.9 L331.4,1131.5 L331.5,1132.0 L331.5,1132.6 L331.5,1133.1 L331.5,1133.7 L331.5,1134.2 L331.4,1134.7 L331.3,1135.1 L331.1,1135.5 L330.9,1135.9 L330.7,1136.2 L330.5,1136.4 L330.3,1136.6 L330.0,1136.8 L329.8,1136.8" fill="none" stroke="#000" stroke-width="1.5" stroke-linejoin="round" stroke-linecap="round" /><path d="M323.6,1127.7 L323.9,1127.7 L324.2,1127.7 L324.5,1127.9 L324.7,1128.0 L325.0,1128.3 L325.3,1128.5 L325.6,1128.9 L325.8,1129.3 L326.1,1129.7 L326.3,1130.1 L326.5,1130.6 L326.6,1131.2 L326.8,1131.7 L326.9,1132.2 L326.9,1132.8 L327.0,1133.3 L327.0,1133.9 L327.0,1134.4 L326.9,1134.9 L326.8,1135.4 L326.7,1135.8 L326.6,1136.3 L326.4,1136.6 L326.2,1136.9 L326.0,1137.2 L325.8,1137.4 L325.5,1137.5 L325.2,1137.6" fill="none" stroke="#000" stroke-width="1.5" stroke-linejoin="round" stroke-linecap="round" /><path d="M319.1,1128.5 L319.3,1128.5 L319.6,1128.5 L319.9,1128.6 L320.2,1128.8 L320.5,1129.0 L320.8,1129.3 L321.0,1129.6 L321.3,1130.0 L321.5,1130.4 L321.7,1130.9 L321.9,1131.4 L322.1,1131.9 L322.2,1132.4 L322.3,1133.0 L322.4,1133.5 L322.5,1134.1 L322.5,1134.6 L322.5,1135.2 L322.4,1135.7 L322.3,1136.2 L322.2,1136.6 L322.1,1137.0 L321.9,1137.4 L321.7,1137.7 L321.5,1137.9 L321.2,1138.1 L321.0,1138.3 L320.7,1138.3" fill="none" stroke="#000" stroke-width="1.5" stroke-linejoin="round" stroke-linecap="round" /><path d="M315.4,1129.1 L315.7,1129.1 L316.0,1129.1 L316.3,1129.2 L316.6,1129.4 L316.9,1129.6 L317.1,1129.9 L317.4,1130.2 L317.7,1130.6 L317.9,1131.0 L318.1,1131.5 L318.3,1132.0 L318.5,1132.5 L318.6,1133.0 L318.7,1133.6 L318.8,1134.1 L318.8,1134.7 L318.8,1135.2 L318.8,1135.8 L318.8,1136.3 L318.7,1136.8 L318.6,1137.2 L318.4,1137.6 L318.3,1138.0 L318.1,1138.3 L317.8,1138.5 L317.6,1138.7 L317.3,1138.9 L317.1,1138.9" fill="none" stroke="#000" stroke-width="1.5" stroke-linejoin="round" stroke-linecap="round" /><ellipse cx="316.2" cy="1134.0" rx="2.4" ry="1.2" transform="rotate(-99.4 316.2 1134.0)" fill="none" stroke="#000" stroke-width="1.5"/>
<path d="M382.5,1106.3 L382.5,1107.1 L382.3,1107.9 L381.9,1108.7 L381.3,1109.4 L380.6,1110.1 L379.7,1110.8 L378.7,1111.4 L377.6,1111.9 L376.3,1112.4 L375.0,1112.9 L373.6,1113.2 L372.1,1113.5 L370.6,1113.7 L369.0,1113.8 L367.5,1113.8 L365.9,1113.7 L364.4,1113.6 L363.0,1113.3 L361.6,1113.0 L360.4,1112.6 L359.2,1112.1 L358.1,1111.6 L357.2,1111.0 L356.4,1110.3 L355.8,1109.7 L355.4,1108.9 L355.1,1108.2 L355.0,1107.4 L353.7,1074.9 L353.8,1074.1 L354.0,1073.4 L354.4,1072.6 L355.0,1071.9 L355.7,1071.2 L356.6,1070.5 L357.6,1069.9 L358.7,1069.3 L359.9,1068.8 L361.3,1068.4 L362.7,1068.0 L364.2,1067.8 L365.7,1067.6 L367.2,1067.5 L368.8,1067.5 L370.3,1067.5 L371.8,1067.7 L373.2,1067.9 L374.6,1068.3 L375.9,1068.7 L377.1,1069.1 L378.1,1069.7 L379.0,1070.3 L379.8,1070.9 L380.4,1071.6 L380.9,1072.3 L381.2,1073.1 L381.3,1073.8Z" fill="#fff" stroke="#000" stroke-width="1.3" stroke-linejoin="round" stroke-linecap="round" /><path d="M381.3,1073.8 L381.2,1074.6 L381.0,1075.4 L380.6,1076.2 L380.0,1076.9 L379.3,1077.6 L378.4,1078.3 L377.4,1078.9 L376.3,1079.4 L375.1,1079.9 L373.7,1080.4 L372.3,1080.7 L370.8,1081.0 L369.3,1081.2 L367.8,1081.3 L366.2,1081.3 L364.7,1081.2 L363.2,1081.1 L361.8,1080.8 L360.4,1080.5 L359.1,1080.1 L357.9,1079.6 L356.9,1079.1 L356.0,1078.5 L355.2,1077.8 L354.6,1077.2 L354.1,1076.4 L353.8,1075.7 L353.7,1074.9" fill="none" stroke="#000" stroke-width="1.3" stroke-linejoin="round" stroke-linecap="round" />
<path d="M376.3,1074.6 L376.2,1075.1 L376.1,1075.6 L375.8,1076.1 L375.4,1076.5 L375.0,1077.0 L374.4,1077.4 L373.7,1077.7 L373.0,1078.1 L372.2,1078.4 L371.3,1078.6 L370.4,1078.8 L369.5,1078.9 L368.5,1079.0 L367.5,1079.0 L366.5,1079.0 L365.5,1078.9 L364.6,1078.8 L363.7,1078.6 L362.8,1078.4 L362.0,1078.1 L361.3,1077.7 L360.6,1077.4 L360.0,1077.0 L359.6,1076.5 L359.2,1076.1 L358.9,1075.6 L358.8,1075.1 L358.7,1074.6 L358.7,1071.5 L358.8,1071.0 L358.9,1070.5 L359.2,1070.0 L359.6,1069.6 L360.0,1069.2 L360.6,1068.8 L361.3,1068.4 L362.0,1068.1 L362.8,1067.8 L363.7,1067.5 L364.6,1067.3 L365.5,1067.2 L366.5,1067.1 L367.5,1067.1 L368.5,1067.1 L369.5,1067.2 L370.4,1067.3 L371.3,1067.5 L372.2,1067.8 L373.0,1068.1 L373.7,1068.4 L374.4,1068.8 L375.0,1069.2 L375.4,1069.6 L375.8,1070.0 L376.1,1070.5 L376.2,1071.0 L376.3,1071.5Z" fill="#fff" stroke="#000" stroke-width="1.3" stroke-linejoin="round" stroke-linecap="round" /><path d="M376.3,1071.5 L376.2,1072.0 L376.1,1072.5 L375.8,1073.0 L375.4,1073.4 L375.0,1073.8 L374.4,1074.2 L373.7,1074.6 L373.0,1074.9 L372.2,1075.2 L371.3,1075.5 L370.4,1075.7 L369.5,1075.8 L368.5,1075.9 L367.5,1075.9 L366.5,1075.9 L365.5,1075.8 L364.6,1075.7 L363.7,1075.5 L362.8,1075.2 L362.0,1074.9 L361.3,1074.6 L360.6,1074.2 L360.0,1073.8 L359.6,1073.4 L359.2,1073.0 L358.9,1072.5 L358.8,1072.0 L358.7,1071.5" fill="none" stroke="#000" stroke-width="1.3" stroke-linejoin="round" stroke-linecap="round" />
<path d="M361.3,1119.2 L361.2,1120.0 L361.0,1120.8 L360.6,1121.6 L360.1,1122.3 L359.4,1123.0 L358.5,1123.7 L357.5,1124.3 L356.4,1124.9 L355.2,1125.4 L353.8,1125.9 L352.4,1126.2 L350.9,1126.5 L349.4,1126.8 L347.9,1126.9 L346.3,1126.9 L344.8,1126.9 L343.3,1126.8 L341.9,1126.5 L340.5,1126.2 L339.2,1125.9 L338.0,1125.4 L337.0,1124.9 L336.0,1124.3 L335.3,1123.7 L334.6,1123.0 L334.2,1122.3 L333.9,1121.5 L333.7,1120.8 L331.8,1087.0 L331.9,1086.2 L332.1,1085.5 L332.5,1084.7 L333.0,1084.0 L333.8,1083.2 L334.6,1082.6 L335.6,1081.9 L336.7,1081.3 L338.0,1080.8 L339.3,1080.4 L340.7,1080.0 L342.2,1079.7 L343.7,1079.5 L345.2,1079.4 L346.8,1079.3 L348.3,1079.4 L349.8,1079.5 L351.3,1079.7 L352.6,1080.0 L353.9,1080.4 L355.1,1080.8 L356.2,1081.4 L357.1,1081.9 L357.9,1082.6 L358.5,1083.3 L359.0,1084.0 L359.3,1084.7 L359.4,1085.5Z" fill="#fff" stroke="#000" stroke-width="1.3" stroke-linejoin="round" stroke-linecap="round" /><path d="M359.4,1085.5 L359.4,1086.3 L359.1,1087.0 L358.8,1087.8 L358.2,1088.5 L357.5,1089.3 L356.6,1089.9 L355.6,1090.6 L354.5,1091.2 L353.3,1091.7 L351.9,1092.1 L350.5,1092.5 L349.1,1092.8 L347.5,1093.0 L346.0,1093.1 L344.5,1093.2 L342.9,1093.1 L341.4,1093.0 L340.0,1092.8 L338.6,1092.5 L337.3,1092.1 L336.2,1091.7 L335.1,1091.1 L334.2,1090.6 L333.4,1089.9 L332.7,1089.2 L332.3,1088.5 L332.0,1087.8 L331.8,1087.0" fill="none" stroke="#000" stroke-width="1.3" stroke-linejoin="round" stroke-linecap="round" />
<path d="M354.4,1086.5 L354.4,1087.0 L354.2,1087.5 L353.9,1088.0 L353.6,1088.4 L353.1,1088.8 L352.5,1089.2 L351.8,1089.6 L351.1,1089.9 L350.3,1090.2 L349.4,1090.5 L348.5,1090.7 L347.6,1090.8 L346.6,1090.9 L345.6,1090.9 L344.6,1090.9 L343.7,1090.8 L342.7,1090.7 L341.8,1090.5 L340.9,1090.2 L340.1,1089.9 L339.4,1089.6 L338.7,1089.2 L338.2,1088.8 L337.7,1088.4 L337.3,1088.0 L337.0,1087.5 L336.9,1087.0 L336.8,1086.5 L336.8,1083.4 L336.9,1082.9 L337.0,1082.4 L337.3,1081.9 L337.7,1081.5 L338.2,1081.0 L338.7,1080.6 L339.4,1080.3 L340.1,1079.9 L340.9,1079.6 L341.8,1079.4 L342.7,1079.2 L343.7,1079.1 L344.6,1079.0 L345.6,1079.0 L346.6,1079.0 L347.6,1079.1 L348.5,1079.2 L349.4,1079.4 L350.3,1079.6 L351.1,1079.9 L351.8,1080.3 L352.5,1080.6 L353.1,1081.0 L353.6,1081.5 L353.9,1081.9 L354.2,1082.4 L354.4,1082.9 L354.4,1083.4Z" fill="#fff" stroke="#000" stroke-width="1.3" stroke-linejoin="round" stroke-linecap="round" /><path d="M354.4,1083.4 L354.4,1083.9 L354.2,1084.4 L353.9,1084.8 L353.6,1085.3 L353.1,1085.7 L352.5,1086.1 L351.8,1086.5 L351.1,1086.8 L350.3,1087.1 L349.4,1087.3 L348.5,1087.5 L347.6,1087.7 L346.6,1087.7 L345.6,1087.8 L344.6,1087.7 L343.7,1087.7 L342.7,1087.5 L341.8,1087.3 L340.9,1087.1 L340.1,1086.8 L339.4,1086.5 L338.7,1086.1 L338.2,1085.7 L337.7,1085.3 L337.3,1084.8 L337.0,1084.4 L336.9,1083.9 L336.8,1083.4" fill="none" stroke="#000" stroke-width="1.3" stroke-linejoin="round" stroke-linecap="round" />
<path d="M314.4,1096.9 L327.5,1090.0 L339.4,1098.1 L328.8,1104.6Z" fill="#fff" stroke="#000" stroke-width="1.3" stroke-linejoin="round" stroke-linecap="round" />
<ellipse cx="324.4" cy="1098.8" rx="2.2" ry="1.4" transform="rotate(0.0 324.4 1098.8)" fill="none" stroke="#000" stroke-width="1.0"/>
<path d="M558.2,1187.6 L557.9,1187.7 L557.5,1187.8 L557.2,1187.8 L556.8,1187.8 L556.3,1187.7 L555.9,1187.5 L555.4,1187.2 L555.0,1186.9 L554.5,1186.6 L554.1,1186.1 L553.6,1185.7 L553.2,1185.2 L552.8,1184.6 L552.5,1184.1 L552.1,1183.5 L551.8,1182.9 L551.5,1182.3 L551.3,1181.7 L551.2,1181.1 L551.0,1180.6 L551.0,1180.0 L550.9,1179.5 L551.0,1179.0 L551.0,1178.6 L551.2,1178.2 L551.3,1177.9 L551.6,1177.6 L551.8,1177.4 L555.8,1172.6 L556.2,1172.4 L556.6,1172.3 L557.1,1172.3 L557.7,1172.3 L558.2,1172.5 L558.8,1172.7 L559.4,1173.1 L560.0,1173.5 L560.6,1174.0 L561.2,1174.5 L561.8,1175.1 L562.4,1175.8 L562.9,1176.5 L563.4,1177.3 L563.8,1178.0 L564.3,1178.8 L564.6,1179.6 L564.9,1180.4 L565.1,1181.2 L565.3,1181.9 L565.4,1182.7 L565.4,1183.4 L565.4,1184.0 L565.3,1184.6 L565.1,1185.1 L564.9,1185.5 L564.6,1185.9 L564.2,1186.2Z" fill="#fff" stroke="#000" stroke-width="1.3" stroke-linejoin="round" stroke-linecap="round" /><path d="M564.2,1186.2 L563.8,1186.4 L563.4,1186.5 L562.9,1186.5 L562.3,1186.4 L561.8,1186.2 L561.2,1186.0 L560.6,1185.7 L560.0,1185.3 L559.4,1184.8 L558.8,1184.2 L558.2,1183.6 L557.6,1183.0 L557.1,1182.2 L556.6,1181.5 L556.2,1180.7 L555.7,1179.9 L555.4,1179.1 L555.1,1178.3 L554.9,1177.6 L554.7,1176.8 L554.6,1176.1 L554.6,1175.4 L554.6,1174.8 L554.7,1174.2 L554.9,1173.7 L555.1,1173.2 L555.4,1172.9 L555.8,1172.6" fill="none" stroke="#000" stroke-width="1.3" stroke-linejoin="round" stroke-linecap="round" />
<path d="M562.8,1183.9 L562.5,1184.0 L562.2,1184.0 L561.8,1184.0 L561.5,1184.0 L561.1,1183.9 L560.7,1183.7 L560.3,1183.4 L559.8,1183.1 L559.4,1182.8 L559.0,1182.4 L558.6,1181.9 L558.3,1181.4 L557.9,1180.9 L557.6,1180.4 L557.3,1179.8 L557.0,1179.3 L556.8,1178.7 L556.6,1178.1 L556.5,1177.6 L556.4,1177.1 L556.3,1176.5 L556.3,1176.1 L556.3,1175.6 L556.4,1175.2 L556.6,1174.9 L556.7,1174.6 L557.0,1174.3 L557.2,1174.1 L567.5,1168.3 L567.8,1168.1 L568.1,1168.1 L568.4,1168.1 L568.8,1168.1 L569.2,1168.3 L569.6,1168.5 L570.0,1168.7 L570.4,1169.0 L570.8,1169.4 L571.2,1169.8 L571.6,1170.2 L572.0,1170.7 L572.4,1171.2 L572.7,1171.7 L573.0,1172.3 L573.2,1172.8 L573.5,1173.4 L573.6,1174.0 L573.8,1174.5 L573.9,1175.1 L573.9,1175.6 L573.9,1176.1 L573.9,1176.5 L573.8,1176.9 L573.7,1177.3 L573.5,1177.6 L573.3,1177.8 L573.0,1178.0Z" fill="#fff" stroke="#000" stroke-width="1.5" stroke-linejoin="round" stroke-linecap="round" /><path d="M565.9,1182.1 L565.6,1182.2 L565.2,1182.3 L564.9,1182.3 L564.5,1182.2 L564.1,1182.1 L563.7,1181.9 L563.3,1181.7 L562.9,1181.4 L562.5,1181.0 L562.1,1180.6 L561.7,1180.2 L561.3,1179.7 L561.0,1179.2 L560.6,1178.6 L560.3,1178.1 L560.1,1177.5 L559.9,1176.9 L559.7,1176.4 L559.5,1175.8 L559.4,1175.3 L559.4,1174.8 L559.4,1174.3 L559.4,1173.9 L559.5,1173.5 L559.6,1173.1 L559.8,1172.8 L560.0,1172.6 L560.3,1172.4" fill="none" stroke="#000" stroke-width="1.5" stroke-linejoin="round" stroke-linecap="round" /><path d="M568.9,1180.3 L568.6,1180.5 L568.3,1180.5 L568.0,1180.5 L567.6,1180.5 L567.2,1180.3 L566.8,1180.1 L566.4,1179.9 L566.0,1179.6 L565.6,1179.2 L565.2,1178.8 L564.8,1178.4 L564.4,1177.9 L564.0,1177.4 L563.7,1176.9 L563.4,1176.3 L563.2,1175.8 L562.9,1175.2 L562.8,1174.6 L562.6,1174.1 L562.5,1173.5 L562.5,1173.0 L562.5,1172.5 L562.5,1172.1 L562.6,1171.7 L562.7,1171.3 L562.9,1171.0 L563.1,1170.8 L563.4,1170.6" fill="none" stroke="#000" stroke-width="1.5" stroke-linejoin="round" stroke-linecap="round" /><path d="M573.0,1178.0 L572.7,1178.1 L572.4,1178.2 L572.1,1178.2 L571.7,1178.1 L571.3,1178.0 L570.9,1177.8 L570.5,1177.5 L570.1,1177.2 L569.7,1176.9 L569.3,1176.5 L568.9,1176.0 L568.5,1175.6 L568.1,1175.1 L567.8,1174.5 L567.5,1174.0 L567.3,1173.4 L567.0,1172.8 L566.9,1172.3 L566.7,1171.7 L566.6,1171.2 L566.6,1170.7 L566.6,1170.2 L566.6,1169.8 L566.7,1169.4 L566.8,1169.0 L567.0,1168.7 L567.2,1168.5 L567.5,1168.3" fill="none" stroke="#000" stroke-width="1.5" stroke-linejoin="round" stroke-linecap="round" />
<path d="M516.8,1178.2 L517.7,1178.0 L518.7,1178.0 L519.7,1178.2 L520.7,1178.5 L521.7,1179.1 L522.7,1179.8 L523.7,1180.6 L524.7,1181.7 L525.6,1182.8 L526.4,1184.1 L527.2,1185.5 L528.0,1186.9 L528.6,1188.5 L529.1,1190.1 L529.6,1191.7 L529.9,1193.3 L530.1,1194.9 L530.3,1196.5 L530.3,1198.1 L530.2,1199.5 L529.9,1200.9 L529.6,1202.2 L529.2,1203.3 L528.6,1204.4 L528.0,1205.2 L527.3,1205.9 L526.5,1206.5 L525.7,1206.8 L510.6,1215.7 L509.4,1215.9 L508.2,1215.9 L507.0,1215.7 L505.7,1215.2 L504.4,1214.5 L503.1,1213.6 L501.9,1212.5 L500.7,1211.2 L499.5,1209.8 L498.4,1208.1 L497.4,1206.4 L496.5,1204.5 L495.7,1202.6 L495.0,1200.6 L494.4,1198.5 L494.0,1196.5 L493.7,1194.4 L493.6,1192.4 L493.6,1190.4 L493.7,1188.6 L494.0,1186.8 L494.4,1185.2 L495.0,1183.8 L495.6,1182.5 L496.4,1181.4 L497.3,1180.5 L498.3,1179.8 L499.4,1179.3Z" fill="#fff" stroke="#000" stroke-width="1.3" stroke-linejoin="round" stroke-linecap="round" /><path d="M509.9,1178.6 L510.9,1178.4 L511.9,1178.4 L513.0,1178.6 L514.1,1179.0 L515.3,1179.6 L516.4,1180.4 L517.5,1181.4 L518.5,1182.5 L519.5,1183.8 L520.5,1185.2 L521.4,1186.7 L522.2,1188.4 L522.9,1190.1 L523.5,1191.8 L524.0,1193.6 L524.3,1195.4 L524.6,1197.2 L524.7,1199.0 L524.7,1200.7 L524.6,1202.3 L524.4,1203.8 L524.0,1205.2 L523.5,1206.5 L522.9,1207.6 L522.2,1208.6 L521.5,1209.4 L520.6,1210.0 L519.6,1210.4" fill="none" stroke="#000" stroke-width="1.3" stroke-linejoin="round" stroke-linecap="round" /><path d="M499.4,1179.3 L500.6,1179.1 L501.8,1179.1 L503.0,1179.3 L504.3,1179.8 L505.6,1180.5 L506.9,1181.4 L508.1,1182.5 L509.3,1183.8 L510.5,1185.2 L511.6,1186.9 L512.6,1188.6 L513.5,1190.5 L514.3,1192.4 L515.0,1194.4 L515.6,1196.5 L516.0,1198.5 L516.3,1200.6 L516.4,1202.6 L516.4,1204.6 L516.3,1206.4 L516.0,1208.2 L515.6,1209.8 L515.0,1211.2 L514.4,1212.5 L513.6,1213.6 L512.7,1214.5 L511.7,1215.2 L510.6,1215.7" fill="none" stroke="#000" stroke-width="1.3" stroke-linejoin="round" stroke-linecap="round" />
<path d="M525.9,1168.8 L527.0,1168.6 L528.2,1168.6 L529.5,1168.8 L530.8,1169.4 L532.2,1170.1 L533.5,1171.1 L534.8,1172.3 L536.1,1173.7 L537.4,1175.3 L538.6,1177.1 L539.7,1179.0 L540.7,1181.1 L541.7,1183.2 L542.5,1185.4 L543.1,1187.7 L543.7,1189.9 L544.1,1192.2 L544.4,1194.4 L544.5,1196.5 L544.4,1198.6 L544.2,1200.5 L543.9,1202.3 L543.4,1203.9 L542.8,1205.3 L542.1,1206.5 L541.2,1207.4 L540.2,1208.2 L539.1,1208.7 L527.9,1212.4 L526.7,1212.7 L525.5,1212.7 L524.2,1212.4 L522.9,1211.9 L521.6,1211.1 L520.2,1210.1 L518.9,1208.9 L517.6,1207.5 L516.3,1205.9 L515.2,1204.1 L514.0,1202.2 L513.0,1200.2 L512.1,1198.0 L511.3,1195.8 L510.6,1193.6 L510.1,1191.3 L509.7,1189.1 L509.4,1186.8 L509.3,1184.7 L509.3,1182.7 L509.5,1180.8 L509.8,1179.0 L510.3,1177.4 L510.9,1176.0 L511.7,1174.8 L512.6,1173.8 L513.5,1173.1 L514.6,1172.6Z" fill="#fff" stroke="#000" stroke-width="1.3" stroke-linejoin="round" stroke-linecap="round" /><path d="M514.6,1172.6 L515.8,1172.3 L517.0,1172.3 L518.3,1172.6 L519.6,1173.1 L520.9,1173.9 L522.3,1174.9 L523.6,1176.1 L524.9,1177.5 L526.2,1179.1 L527.3,1180.9 L528.5,1182.8 L529.5,1184.8 L530.4,1187.0 L531.2,1189.2 L531.9,1191.4 L532.4,1193.7 L532.8,1195.9 L533.1,1198.2 L533.2,1200.3 L533.2,1202.3 L533.0,1204.2 L532.7,1206.0 L532.2,1207.6 L531.6,1209.0 L530.8,1210.2 L529.9,1211.2 L529.0,1211.9 L527.9,1212.4" fill="none" stroke="#000" stroke-width="1.3" stroke-linejoin="round" stroke-linecap="round" />
<path d="M487.5,1191.5 L492.5,1189.0 L500.0,1191.2 L500.0,1200.0 L494.0,1202.8 L487.5,1200.0Z" fill="#fff" stroke="#000" stroke-width="1.3" stroke-linejoin="round" stroke-linecap="round" />
<path d="M487.5,1191.5 L494.0,1194.0 L500.0,1191.2" fill="none" stroke="#000" stroke-width="1.3" stroke-linejoin="round" stroke-linecap="round" /><path d="M494.0,1194.0 L494.0,1202.8" fill="none" stroke="#000" stroke-width="1.3" stroke-linejoin="round" stroke-linecap="round" />
<path d="M516.2,1169.0 L521.2,1167.9 L539.4,1174.4 L555.0,1170.6 L555.0,1198.1 L538.8,1206.5 L527.5,1211.9 L526.9,1182.5Z" fill="#fff" stroke="#000" stroke-width="1.3" stroke-linejoin="round" stroke-linecap="round" />
<path d="M526.9,1182.5 L538.8,1175.2 L539.4,1174.4" fill="none" stroke="#000" stroke-width="1.3" stroke-linejoin="round" stroke-linecap="round" /><path d="M538.8,1175.2 L538.8,1206.5" fill="none" stroke="#000" stroke-width="1.3" stroke-linejoin="round" stroke-linecap="round" /><path d="M516.2,1169.0 L526.9,1182.5" fill="none" stroke="#000" stroke-width="1.3" stroke-linejoin="round" stroke-linecap="round" />
<path d="M541.2,1197.5 L550.0,1191.9 L550.6,1195.0 L541.5,1201.2Z" fill="none" stroke="#000" stroke-width="1.3" stroke-linejoin="round" stroke-linecap="round" />
<path d="M554.2,1173.1 L554.2,1173.5 L554.0,1173.9 L553.8,1174.2 L553.5,1174.6 L553.0,1174.9 L552.5,1175.2 L551.9,1175.5 L551.2,1175.8 L550.5,1176.0 L549.7,1176.2 L548.9,1176.3 L548.0,1176.4 L547.1,1176.5 L546.2,1176.5 L545.4,1176.5 L544.5,1176.4 L543.6,1176.3 L542.8,1176.2 L542.0,1176.0 L541.3,1175.8 L540.6,1175.5 L540.0,1175.2 L539.5,1174.9 L539.0,1174.6 L538.7,1174.2 L538.5,1173.9 L538.3,1173.5 L538.2,1173.1 L538.2,1155.0 L538.3,1154.6 L538.5,1154.3 L538.7,1153.9 L539.0,1153.5 L539.5,1153.2 L540.0,1152.9 L540.6,1152.6 L541.3,1152.4 L542.0,1152.2 L542.8,1152.0 L543.6,1151.8 L544.5,1151.7 L545.4,1151.7 L546.2,1151.6 L547.1,1151.7 L548.0,1151.7 L548.9,1151.8 L549.7,1152.0 L550.5,1152.2 L551.2,1152.4 L551.9,1152.6 L552.5,1152.9 L553.0,1153.2 L553.5,1153.5 L553.8,1153.9 L554.0,1154.3 L554.2,1154.6 L554.2,1155.0Z" fill="#fff" stroke="#000" stroke-width="1.5" stroke-linejoin="round" stroke-linecap="round" /><path d="M554.2,1166.8 L554.2,1167.2 L554.0,1167.5 L553.8,1167.9 L553.5,1168.2 L553.0,1168.6 L552.5,1168.9 L551.9,1169.2 L551.2,1169.4 L550.5,1169.6 L549.7,1169.8 L548.9,1170.0 L548.0,1170.1 L547.1,1170.1 L546.2,1170.1 L545.4,1170.1 L544.5,1170.1 L543.6,1170.0 L542.8,1169.8 L542.0,1169.6 L541.3,1169.4 L540.6,1169.2 L540.0,1168.9 L539.5,1168.6 L539.0,1168.2 L538.7,1167.9 L538.5,1167.5 L538.3,1167.2 L538.2,1166.8" fill="none" stroke="#000" stroke-width="1.5" stroke-linejoin="round" stroke-linecap="round" /><path d="M554.2,1161.3 L554.2,1161.7 L554.0,1162.1 L553.8,1162.5 L553.5,1162.8 L553.0,1163.1 L552.5,1163.4 L551.9,1163.7 L551.2,1164.0 L550.5,1164.2 L549.7,1164.4 L548.9,1164.5 L548.0,1164.6 L547.1,1164.7 L546.2,1164.7 L545.4,1164.7 L544.5,1164.6 L543.6,1164.5 L542.8,1164.4 L542.0,1164.2 L541.3,1164.0 L540.6,1163.7 L540.0,1163.4 L539.5,1163.1 L539.0,1162.8 L538.7,1162.5 L538.5,1162.1 L538.3,1161.7 L538.2,1161.3" fill="none" stroke="#000" stroke-width="1.5" stroke-linejoin="round" stroke-linecap="round" /><path d="M554.2,1155.0 L554.2,1155.4 L554.0,1155.7 L553.8,1156.1 L553.5,1156.5 L553.0,1156.8 L552.5,1157.1 L551.9,1157.4 L551.2,1157.6 L550.5,1157.8 L549.7,1158.0 L548.9,1158.2 L548.0,1158.3 L547.1,1158.3 L546.2,1158.4 L545.4,1158.3 L544.5,1158.3 L543.6,1158.2 L542.8,1158.0 L542.0,1157.8 L541.3,1157.6 L540.6,1157.4 L540.0,1157.1 L539.5,1156.8 L539.0,1156.5 L538.7,1156.1 L538.5,1155.7 L538.3,1155.4 L538.2,1155.0" fill="none" stroke="#000" stroke-width="1.5" stroke-linejoin="round" stroke-linecap="round" /><ellipse cx="546.2" cy="1155.0" rx="4.2" ry="1.8" transform="rotate(0.0 546.2 1155.0)" fill="none" stroke="#000" stroke-width="1.5"/>
<path d="M547.5,1118.0 L547.5,1155.0" fill="none" stroke="#000" stroke-width="1.6" stroke-linejoin="round" stroke-linecap="round" />
<path d="M535.8,1091.2C536.0,1089.6 535.5,1085.0 537.0,1081.2C538.5,1077.5 541.5,1072.5 544.5,1068.5C547.5,1064.5 550.3,1061.5 555.0,1057.5C559.7,1053.5 566.7,1048.2 572.5,1044.2C578.3,1040.3 584.6,1036.6 590.0,1033.8C595.4,1030.9 600.9,1028.5 605.0,1027.2C609.1,1026.0 611.6,1025.5 614.5,1026.0C617.4,1026.5 620.4,1028.2 622.5,1030.5C624.6,1032.8 626.2,1036.5 627.0,1039.5C627.8,1042.5 627.7,1046.0 627.0,1048.8C626.3,1051.5 625.0,1054.2 623.0,1056.2C621.0,1058.3 618.8,1059.2 615.0,1061.2C611.2,1063.3 605.0,1066.1 600.0,1068.8C595.0,1071.4 588.4,1075.2 585.0,1077.0C581.6,1078.8 581.2,1079.3 579.5,1079.8C577.8,1080.2 575.8,1080.3 574.5,1079.5C573.2,1078.7 572.0,1076.8 571.5,1075.0C571.0,1073.2 572.1,1068.8 571.2,1068.5C570.4,1068.2 567.9,1071.1 566.2,1073.0C564.6,1074.9 562.4,1077.0 561.2,1080.0C560.1,1083.0 559.6,1089.4 559.2,1091.2Z" fill="#fff" stroke="#000" stroke-width="2.4" stroke-linejoin="round" stroke-linecap="round" />
<path d="M571.2,1068.2C574.4,1066.4 584.0,1060.7 590.0,1057.2C596.0,1053.8 603.6,1049.9 607.5,1047.8C611.4,1045.6 612.3,1044.8 613.2,1044.2" fill="none" stroke="#000" stroke-width="2.4" stroke-linejoin="round" stroke-linecap="round" />
<path d="M578.6,1079.8 L577.9,1080.0 L577.1,1079.9 L576.2,1079.5 L575.2,1078.8 L574.3,1077.9 L573.4,1076.8 L572.7,1075.5 L572.1,1074.2 L571.6,1072.8 L571.4,1071.5 L571.3,1070.4 L571.5,1069.4 L571.9,1068.7 L572.4,1068.2 L573.1,1068.0 L573.9,1068.1 L574.8,1068.5 L575.8,1069.2 L576.7,1070.1 L577.6,1071.2 L578.3,1072.5 L578.9,1073.8 L579.4,1075.2 L579.6,1076.5 L579.7,1077.6 L579.5,1078.6 L579.1,1079.3 L578.6,1079.8Z" fill="#fff" stroke="#000" stroke-width="2.2" stroke-linejoin="round" stroke-linecap="round" />
<path d="M585.0,1059.5 L590.0,1057.2 L597.0,1067.0" fill="none" stroke="#000" stroke-width="1.2" stroke-linejoin="round" stroke-linecap="round" />
<path d="M534.7,1088.7 L535.0,1089.7 L535.7,1090.6 L536.9,1091.4 L538.5,1092.1 L540.5,1092.7 L542.7,1093.0 L545.1,1093.2 L547.5,1093.2 L550.0,1093.0 L552.3,1092.5 L554.5,1092.0 L556.3,1091.2 L557.9,1090.3 L559.0,1089.4 L559.6,1088.4 L559.8,1087.3 L560.0,1101.2 L559.7,1102.3 L558.9,1103.3 L557.6,1104.2 L556.0,1104.9 L554.0,1105.5 L551.7,1105.9 L549.2,1106.1 L546.7,1106.1 L544.2,1105.9 L541.8,1105.4 L539.5,1104.8 L537.6,1104.0 L536.0,1103.0 L534.9,1102.0 L534.2,1100.9 L534.0,1099.8Z" fill="#fff" stroke="#000" stroke-width="2.4" stroke-linejoin="round" stroke-linecap="round" />
<path d="M559.8,1096.9 L559.5,1098.0 L558.7,1098.9 L557.5,1099.8 L555.8,1100.5 L553.9,1101.1 L551.6,1101.5 L549.2,1101.7 L546.7,1101.6 L544.2,1101.4 L541.8,1101.0 L539.7,1100.4 L537.8,1099.6 L536.2,1098.7 L535.1,1097.7 L534.4,1096.6 L534.2,1095.6" fill="none" stroke="#000" stroke-width="1.1" stroke-linejoin="round" stroke-linecap="round" />
<path d="M215.6,1137.7 L215.1,1137.8 L214.7,1137.9 L214.1,1137.9 L213.6,1137.8 L213.0,1137.6 L212.4,1137.3 L211.8,1136.9 L211.2,1136.4 L210.6,1135.9 L210.1,1135.3 L209.5,1134.6 L209.0,1133.9 L208.5,1133.1 L208.0,1132.3 L207.6,1131.5 L207.2,1130.6 L206.9,1129.8 L206.7,1128.9 L206.5,1128.1 L206.4,1127.3 L206.3,1126.5 L206.3,1125.8 L206.4,1125.2 L206.6,1124.6 L206.8,1124.1 L207.0,1123.6 L207.4,1123.3 L207.8,1123.0 L220.3,1116.3 L220.7,1116.2 L221.2,1116.1 L221.7,1116.1 L222.2,1116.2 L222.8,1116.4 L223.4,1116.7 L224.0,1117.1 L224.6,1117.6 L225.2,1118.1 L225.8,1118.7 L226.3,1119.4 L226.9,1120.1 L227.4,1120.9 L227.8,1121.7 L228.2,1122.5 L228.6,1123.4 L228.9,1124.2 L229.2,1125.1 L229.3,1125.9 L229.5,1126.7 L229.5,1127.5 L229.5,1128.2 L229.4,1128.8 L229.3,1129.4 L229.1,1129.9 L228.8,1130.4 L228.5,1130.7 L228.1,1131.0Z" fill="#fff" stroke="#000" stroke-width="1.8" stroke-linejoin="round" stroke-linecap="round" /><path d="M218.7,1136.0 L218.3,1136.2 L217.8,1136.2 L217.3,1136.2 L216.7,1136.1 L216.2,1135.9 L215.6,1135.6 L215.0,1135.2 L214.4,1134.8 L213.8,1134.2 L213.2,1133.6 L212.6,1132.9 L212.1,1132.2 L211.6,1131.4 L211.1,1130.6 L210.7,1129.8 L210.4,1128.9 L210.0,1128.1 L209.8,1127.2 L209.6,1126.4 L209.5,1125.6 L209.4,1124.9 L209.5,1124.2 L209.5,1123.5 L209.7,1122.9 L209.9,1122.4 L210.2,1122.0 L210.5,1121.6 L210.9,1121.3" fill="none" stroke="#000" stroke-width="1.8" stroke-linejoin="round" stroke-linecap="round" /><path d="M221.8,1134.3 L221.4,1134.5 L220.9,1134.6 L220.4,1134.6 L219.8,1134.4 L219.3,1134.2 L218.7,1133.9 L218.1,1133.6 L217.5,1133.1 L216.9,1132.5 L216.3,1131.9 L215.8,1131.3 L215.2,1130.5 L214.7,1129.8 L214.3,1129.0 L213.8,1128.1 L213.5,1127.3 L213.2,1126.4 L212.9,1125.6 L212.7,1124.8 L212.6,1124.0 L212.6,1123.2 L212.6,1122.5 L212.7,1121.8 L212.8,1121.2 L213.0,1120.7 L213.3,1120.3 L213.6,1119.9 L214.0,1119.7" fill="none" stroke="#000" stroke-width="1.8" stroke-linejoin="round" stroke-linecap="round" /><path d="M224.9,1132.7 L224.5,1132.8 L224.0,1132.9 L223.5,1132.9 L223.0,1132.8 L222.4,1132.6 L221.8,1132.3 L221.2,1131.9 L220.6,1131.4 L220.0,1130.9 L219.4,1130.3 L218.9,1129.6 L218.3,1128.9 L217.8,1128.1 L217.4,1127.3 L217.0,1126.5 L216.6,1125.6 L216.3,1124.8 L216.0,1123.9 L215.9,1123.1 L215.7,1122.3 L215.7,1121.5 L215.7,1120.8 L215.8,1120.2 L215.9,1119.6 L216.1,1119.1 L216.4,1118.6 L216.8,1118.3 L217.1,1118.0" fill="none" stroke="#000" stroke-width="1.8" stroke-linejoin="round" stroke-linecap="round" /><path d="M228.1,1131.0 L227.6,1131.2 L227.2,1131.2 L226.6,1131.2 L226.1,1131.1 L225.5,1130.9 L224.9,1130.6 L224.3,1130.2 L223.7,1129.8 L223.1,1129.2 L222.6,1128.6 L222.0,1127.9 L221.5,1127.2 L221.0,1126.4 L220.5,1125.6 L220.1,1124.8 L219.7,1123.9 L219.4,1123.1 L219.2,1122.2 L219.0,1121.4 L218.9,1120.6 L218.8,1119.9 L218.8,1119.2 L218.9,1118.5 L219.1,1117.9 L219.3,1117.4 L219.5,1117.0 L219.9,1116.6 L220.3,1116.3" fill="none" stroke="#000" stroke-width="1.8" stroke-linejoin="round" stroke-linecap="round" />
<path d="M233.3,1119.2 L260.8,1105.8 L260.8,1164.2 L284.5,1151.6" fill="none" stroke="#000" stroke-width="1.6" stroke-linejoin="round" stroke-linecap="round" />
<g transform="translate(286.7,1148.3) rotate(0) scale(0.94,0.94)" fill="none" stroke="#000" stroke-linecap="round" stroke-linejoin="round"><path d="M-10.6,0.6C-10.4,-0.3 -10.1,-3.0 -9.4,-5.0C-8.7,-7.0 -7.3,-9.8 -6.2,-11.2C-5.2,-12.7 -4.3,-13.2 -3.1,-13.4C-1.9,-13.6 -0.2,-13.4 1.2,-12.5C2.7,-11.6 4.4,-9.9 5.6,-8.1C6.8,-6.3 7.8,-4.0 8.4,-1.9C9.0,0.2 9.2,2.6 9.1,4.4C8.9,6.2 8.3,7.6 7.5,8.8C6.7,9.9 5.7,10.6 4.4,11.2C3.2,11.9 1.5,12.5 0.0,12.5C-1.5,12.5 -3.2,11.9 -4.4,11.2C-5.6,10.6 -6.7,9.2 -7.2,8.8" stroke-width="2.5"/><path d="M-6.2,-5.6C-5.6,-5.7 -3.8,-6.7 -2.5,-6.2C-1.2,-5.8 0.2,-4.6 1.2,-3.1C2.3,-1.6 3.6,0.6 4.1,2.5C4.6,4.4 4.7,6.8 4.4,8.1C4.1,9.4 2.8,10.2 2.5,10.6" stroke-width="1.3"/><path d="M-10.6,0.6 L-10,-3.5 L-8,-5.5 M-7.2,8.75 L-4.4,5.6 L-2.5,2.5 M-5,-10 L-3.7,-6.3 L-0.6,-5.6 L1.9,-8.1 M-8,-5 L-7.6,-1.5" stroke-width="1.3"/><path d="M2,-7.5 L5.5,-2 M5,-4 L7.5,2 M6,3 L7.5,7.5 M-1,-9.5 L0.5,-7" stroke-width="1.0"/></g>
<path d="M300.0,1145.0 L316.7,1136.7" fill="none" stroke="#000" stroke-width="1.6" stroke-linejoin="round" stroke-linecap="round" />
<path d="M452.0,1053.3 L452.4,1053.1 L452.9,1053.0 L453.5,1053.0 L454.1,1053.1 L454.7,1053.3 L455.3,1053.6 L456.0,1054.0 L456.6,1054.4 L457.3,1055.0 L457.9,1055.6 L458.5,1056.3 L459.1,1057.1 L459.7,1057.9 L460.2,1058.7 L460.6,1059.6 L461.1,1060.5 L461.4,1061.4 L461.7,1062.3 L461.9,1063.1 L462.1,1064.0 L462.2,1064.8 L462.2,1065.5 L462.1,1066.2 L462.0,1066.8 L461.8,1067.4 L461.5,1067.9 L461.1,1068.3 L460.7,1068.5 L448.3,1076.3 L447.8,1076.5 L447.3,1076.6 L446.7,1076.6 L446.1,1076.5 L445.4,1076.3 L444.8,1076.0 L444.1,1075.5 L443.4,1075.0 L442.7,1074.5 L442.0,1073.8 L441.4,1073.1 L440.8,1072.3 L440.2,1071.4 L439.6,1070.5 L439.1,1069.6 L438.7,1068.7 L438.3,1067.7 L438.0,1066.8 L437.8,1065.9 L437.6,1065.0 L437.5,1064.1 L437.5,1063.3 L437.6,1062.6 L437.7,1061.9 L438.0,1061.4 L438.3,1060.9 L438.6,1060.5 L439.0,1060.1Z" fill="#fff" stroke="#000" stroke-width="1.8" stroke-linejoin="round" stroke-linecap="round" /><path d="M447.4,1055.7 L447.9,1055.5 L448.4,1055.4 L449.0,1055.4 L449.6,1055.5 L450.2,1055.7 L450.8,1056.0 L451.5,1056.4 L452.2,1056.9 L452.8,1057.4 L453.5,1058.1 L454.1,1058.8 L454.7,1059.6 L455.3,1060.4 L455.8,1061.2 L456.3,1062.1 L456.7,1063.0 L457.1,1063.9 L457.4,1064.8 L457.6,1065.7 L457.7,1066.6 L457.8,1067.4 L457.8,1068.2 L457.8,1068.9 L457.6,1069.5 L457.4,1070.1 L457.1,1070.6 L456.8,1071.0 L456.4,1071.3" fill="none" stroke="#000" stroke-width="1.8" stroke-linejoin="round" stroke-linecap="round" /><path d="M439.0,1060.1 L439.5,1059.9 L440.0,1059.8 L440.6,1059.8 L441.2,1059.9 L441.9,1060.1 L442.6,1060.5 L443.2,1060.9 L443.9,1061.4 L444.6,1062.0 L445.3,1062.6 L445.9,1063.4 L446.6,1064.2 L447.2,1065.0 L447.7,1065.9 L448.2,1066.8 L448.6,1067.7 L449.0,1068.7 L449.3,1069.6 L449.5,1070.5 L449.7,1071.4 L449.8,1072.3 L449.8,1073.1 L449.7,1073.8 L449.6,1074.5 L449.4,1075.1 L449.1,1075.6 L448.7,1076.0 L448.3,1076.3" fill="none" stroke="#000" stroke-width="1.8" stroke-linejoin="round" stroke-linecap="round" />
<path d="M448.3,1076.3 L447.3,1076.6 L446.1,1076.5 L444.8,1075.9 L443.5,1075.0 L442.1,1073.8 L440.8,1072.2 L439.7,1070.5 L438.7,1068.7 L438.1,1066.8 L437.7,1065.0 L437.5,1063.3 L437.7,1062.0 L438.2,1060.9 L439.0,1060.2 L440.0,1059.8 L441.2,1060.0 L442.5,1060.5 L443.9,1061.4 L445.2,1062.6 L446.5,1064.2 L447.7,1065.9 L448.6,1067.8 L449.3,1069.6 L449.7,1071.4 L449.8,1073.1 L449.6,1074.5 L449.1,1075.5 L448.3,1076.3Z" fill="#fff" stroke="#000" stroke-width="2.4" stroke-linejoin="round" stroke-linecap="round" />
<ellipse cx="443.7" cy="1068.2" rx="5.5" ry="2.6" transform="rotate(60.0 443.7 1068.2)" fill="none" stroke="#000" stroke-width="1.2"/>
<path d="M441.8,1070.1 L426.5,1078.1" fill="none" stroke="#000" stroke-width="1.6" stroke-linejoin="round" stroke-linecap="round" />
<g transform="translate(413.3,1082.5) rotate(0) scale(0.94,0.94)" fill="none" stroke="#000" stroke-linecap="round" stroke-linejoin="round"><path d="M-10.6,0.6C-10.4,-0.3 -10.1,-3.0 -9.4,-5.0C-8.7,-7.0 -7.3,-9.8 -6.2,-11.2C-5.2,-12.7 -4.3,-13.2 -3.1,-13.4C-1.9,-13.6 -0.2,-13.4 1.2,-12.5C2.7,-11.6 4.4,-9.9 5.6,-8.1C6.8,-6.3 7.8,-4.0 8.4,-1.9C9.0,0.2 9.2,2.6 9.1,4.4C8.9,6.2 8.3,7.6 7.5,8.8C6.7,9.9 5.7,10.6 4.4,11.2C3.2,11.9 1.5,12.5 0.0,12.5C-1.5,12.5 -3.2,11.9 -4.4,11.2C-5.6,10.6 -6.7,9.2 -7.2,8.8" stroke-width="2.5"/><path d="M-6.2,-5.6C-5.6,-5.7 -3.8,-6.7 -2.5,-6.2C-1.2,-5.8 0.2,-4.6 1.2,-3.1C2.3,-1.6 3.6,0.6 4.1,2.5C4.6,4.4 4.7,6.8 4.4,8.1C4.1,9.4 2.8,10.2 2.5,10.6" stroke-width="1.3"/><path d="M-10.6,0.6 L-10,-3.5 L-8,-5.5 M-7.2,8.75 L-4.4,5.6 L-2.5,2.5 M-5,-10 L-3.7,-6.3 L-0.6,-5.6 L1.9,-8.1 M-8,-5 L-7.6,-1.5" stroke-width="1.3"/><path d="M2,-7.5 L5.5,-2 M5,-4 L7.5,2 M6,3 L7.5,7.5 M-1,-9.5 L0.5,-7" stroke-width="1.0"/></g>
<path d="M411.0,1085.6 L399.5,1092.7" fill="none" stroke="#000" stroke-width="1.6" stroke-linejoin="round" stroke-linecap="round" />
<path d="M530.0,1094.2 L516.9,1100.7" fill="none" stroke="#000" stroke-width="1.6" stroke-linejoin="round" stroke-linecap="round" />
<g transform="translate(505.2,1105.1) rotate(0) scale(0.94,0.94)" fill="none" stroke="#000" stroke-linecap="round" stroke-linejoin="round"><path d="M-10.6,0.6C-10.4,-0.3 -10.1,-3.0 -9.4,-5.0C-8.7,-7.0 -7.3,-9.8 -6.2,-11.2C-5.2,-12.7 -4.3,-13.2 -3.1,-13.4C-1.9,-13.6 -0.2,-13.4 1.2,-12.5C2.7,-11.6 4.4,-9.9 5.6,-8.1C6.8,-6.3 7.8,-4.0 8.4,-1.9C9.0,0.2 9.2,2.6 9.1,4.4C8.9,6.2 8.3,7.6 7.5,8.8C6.7,9.9 5.7,10.6 4.4,11.2C3.2,11.9 1.5,12.5 0.0,12.5C-1.5,12.5 -3.2,11.9 -4.4,11.2C-5.6,10.6 -6.7,9.2 -7.2,8.8" stroke-width="2.5"/><path d="M-6.2,-5.6C-5.6,-5.7 -3.8,-6.7 -2.5,-6.2C-1.2,-5.8 0.2,-4.6 1.2,-3.1C2.3,-1.6 3.6,0.6 4.1,2.5C4.6,4.4 4.7,6.8 4.4,8.1C4.1,9.4 2.8,10.2 2.5,10.6" stroke-width="1.3"/><path d="M-10.6,0.6 L-10,-3.5 L-8,-5.5 M-7.2,8.75 L-4.4,5.6 L-2.5,2.5 M-5,-10 L-3.7,-6.3 L-0.6,-5.6 L1.9,-8.1 M-8,-5 L-7.6,-1.5" stroke-width="1.3"/><path d="M2,-7.5 L5.5,-2 M5,-4 L7.5,2 M6,3 L7.5,7.5 M-1,-9.5 L0.5,-7" stroke-width="1.0"/></g>
<path d="M395.6,1115.0 L410.6,1107.5 L455.6,1131.9 L503.0,1108.0" fill="none" stroke="#000" stroke-width="1.6" stroke-linejoin="round" stroke-linecap="round" />
<path d="M745.1,746.3 L745.6,746.2 L746.1,746.3 L746.6,746.5 L747.2,746.9 L747.7,747.3 L748.3,747.9 L748.8,748.6 L749.3,749.3 L749.8,750.2 L750.3,751.1 L750.7,752.2 L751.1,753.2 L751.5,754.3 L751.8,755.5 L752.0,756.6 L752.2,757.8 L752.4,758.9 L752.4,760.0 L752.4,761.1 L752.4,762.1 L752.3,763.0 L752.1,763.8 L751.8,764.6 L751.6,765.3 L751.2,765.8 L750.8,766.2 L750.4,766.5 L749.9,766.7 L722.5,774.8 L722.0,774.9 L721.4,774.8 L720.8,774.5 L720.1,774.1 L719.5,773.6 L718.9,773.0 L718.3,772.2 L717.7,771.3 L717.1,770.3 L716.5,769.2 L716.0,768.1 L715.6,766.9 L715.2,765.6 L714.8,764.3 L714.6,763.0 L714.4,761.7 L714.2,760.4 L714.1,759.1 L714.1,757.9 L714.2,756.8 L714.3,755.7 L714.5,754.7 L714.8,753.9 L715.1,753.1 L715.5,752.5 L715.9,752.0 L716.4,751.7 L717.0,751.5Z" fill="#fff" stroke="#000" stroke-width="2.2" stroke-linejoin="round" stroke-linecap="round" /><path d="M740.0,747.2 L740.5,747.2 L741.0,747.2 L741.6,747.5 L742.2,747.8 L742.7,748.3 L743.3,748.8 L743.8,749.5 L744.4,750.3 L744.9,751.2 L745.4,752.2 L745.8,753.2 L746.2,754.3 L746.6,755.5 L746.9,756.6 L747.2,757.8 L747.4,759.0 L747.5,760.2 L747.6,761.3 L747.6,762.4 L747.5,763.4 L747.4,764.4 L747.2,765.2 L747.0,766.0 L746.7,766.7 L746.3,767.2 L745.9,767.7 L745.5,768.0 L745.0,768.2" fill="none" stroke="#000" stroke-width="2.2" stroke-linejoin="round" stroke-linecap="round" /><path d="M735.5,748.0 L736.0,748.0 L736.6,748.1 L737.1,748.3 L737.7,748.6 L738.3,749.1 L738.9,749.7 L739.4,750.4 L740.0,751.2 L740.5,752.1 L741.0,753.1 L741.5,754.2 L741.9,755.3 L742.2,756.5 L742.6,757.7 L742.8,758.9 L743.0,760.1 L743.2,761.3 L743.2,762.4 L743.2,763.5 L743.2,764.6 L743.1,765.6 L742.9,766.5 L742.6,767.2 L742.3,767.9 L742.0,768.5 L741.6,769.0 L741.1,769.3 L740.6,769.5" fill="none" stroke="#000" stroke-width="2.2" stroke-linejoin="round" stroke-linecap="round" /><path d="M727.6,749.5 L728.2,749.4 L728.7,749.5 L729.3,749.7 L729.9,750.1 L730.5,750.6 L731.1,751.2 L731.7,752.0 L732.3,752.8 L732.8,753.7 L733.4,754.8 L733.8,755.9 L734.3,757.0 L734.6,758.3 L735.0,759.5 L735.2,760.7 L735.4,762.0 L735.6,763.2 L735.7,764.4 L735.7,765.6 L735.6,766.7 L735.5,767.7 L735.3,768.6 L735.0,769.4 L734.7,770.1 L734.3,770.7 L733.9,771.2 L733.5,771.5 L732.9,771.7" fill="none" stroke="#000" stroke-width="2.2" stroke-linejoin="round" stroke-linecap="round" /><path d="M722.6,750.4 L723.1,750.4 L723.7,750.5 L724.3,750.7 L724.9,751.1 L725.5,751.6 L726.2,752.2 L726.8,752.9 L727.3,753.8 L727.9,754.8 L728.4,755.8 L728.9,757.0 L729.4,758.2 L729.7,759.4 L730.1,760.7 L730.4,761.9 L730.6,763.2 L730.7,764.5 L730.8,765.7 L730.8,766.9 L730.7,768.0 L730.6,769.0 L730.4,770.0 L730.1,770.8 L729.8,771.6 L729.4,772.2 L729.0,772.6 L728.5,773.0 L728.0,773.2" fill="none" stroke="#000" stroke-width="2.2" stroke-linejoin="round" stroke-linecap="round" /><path d="M717.0,751.5 L717.5,751.4 L718.1,751.5 L718.7,751.7 L719.4,752.1 L720.0,752.6 L720.6,753.3 L721.2,754.0 L721.8,754.9 L722.4,755.9 L723.0,757.0 L723.5,758.2 L723.9,759.4 L724.3,760.7 L724.7,762.0 L724.9,763.3 L725.1,764.6 L725.3,765.9 L725.4,767.1 L725.4,768.3 L725.3,769.5 L725.2,770.6 L725.0,771.5 L724.7,772.4 L724.4,773.1 L724.0,773.8 L723.6,774.2 L723.1,774.6 L722.5,774.8" fill="none" stroke="#000" stroke-width="2.2" stroke-linejoin="round" stroke-linecap="round" />
<path d="M722.5,774.8 L721.4,774.8 L720.1,774.1 L718.9,773.0 L717.7,771.3 L716.6,769.2 L715.6,766.9 L714.9,764.3 L714.4,761.7 L714.2,759.1 L714.2,756.8 L714.5,754.7 L715.1,753.1 L716.0,752.0 L717.0,751.5 L718.1,751.5 L719.4,752.1 L720.6,753.3 L721.8,754.9 L722.9,757.0 L723.9,759.4 L724.6,762.0 L725.1,764.6 L725.3,767.1 L725.3,769.5 L725.0,771.5 L724.4,773.1 L723.5,774.2 L722.5,774.8Z" fill="#fff" stroke="#000" stroke-width="2.6" stroke-linejoin="round" stroke-linecap="round" />
<ellipse cx="719.8" cy="763.1" rx="7.5" ry="3.2" transform="rotate(76.6 719.8 763.1)" fill="none" stroke="#000" stroke-width="1.8"/>
<ellipse cx="720.8" cy="763.1" rx="4.0" ry="1.8" transform="rotate(-76.0 720.8 763.1)" fill="none" stroke="#000" stroke-width="1.6"/>
<path d="M718.8,763.8 L683.1,772.5" fill="none" stroke="#000" stroke-width="1.6" stroke-linejoin="round" stroke-linecap="round" />
<g transform="translate(442.5,848.0) rotate(0) scale(0.94,0.94)" fill="none" stroke="#000" stroke-linecap="round" stroke-linejoin="round"><path d="M-10.6,0.6C-10.4,-0.3 -10.1,-3.0 -9.4,-5.0C-8.7,-7.0 -7.3,-9.8 -6.2,-11.2C-5.2,-12.7 -4.3,-13.2 -3.1,-13.4C-1.9,-13.6 -0.2,-13.4 1.2,-12.5C2.7,-11.6 4.4,-9.9 5.6,-8.1C6.8,-6.3 7.8,-4.0 8.4,-1.9C9.0,0.2 9.2,2.6 9.1,4.4C8.9,6.2 8.3,7.6 7.5,8.8C6.7,9.9 5.7,10.6 4.4,11.2C3.2,11.9 1.5,12.5 0.0,12.5C-1.5,12.5 -3.2,11.9 -4.4,11.2C-5.6,10.6 -6.7,9.2 -7.2,8.8" stroke-width="2.5"/><path d="M-6.2,-5.6C-5.6,-5.7 -3.8,-6.7 -2.5,-6.2C-1.2,-5.8 0.2,-4.6 1.2,-3.1C2.3,-1.6 3.6,0.6 4.1,2.5C4.6,4.4 4.7,6.8 4.4,8.1C4.1,9.4 2.8,10.2 2.5,10.6" stroke-width="1.3"/><path d="M-10.6,0.6 L-10,-3.5 L-8,-5.5 M-7.2,8.75 L-4.4,5.6 L-2.5,2.5 M-5,-10 L-3.7,-6.3 L-0.6,-5.6 L1.9,-8.1 M-8,-5 L-7.6,-1.5" stroke-width="1.3"/><path d="M2,-7.5 L5.5,-2 M5,-4 L7.5,2 M6,3 L7.5,7.5 M-1,-9.5 L0.5,-7" stroke-width="1.0"/><path d="M-15.5,8.8 L-2.5,2.5" stroke-width="1.5"/></g>
<g transform="translate(610.0,822.0) rotate(0) scale(0.94,0.94)" fill="none" stroke="#000" stroke-linecap="round" stroke-linejoin="round"><path d="M-10.6,0.6C-10.4,-0.3 -10.1,-3.0 -9.4,-5.0C-8.7,-7.0 -7.3,-9.8 -6.2,-11.2C-5.2,-12.7 -4.3,-13.2 -3.1,-13.4C-1.9,-13.6 -0.2,-13.4 1.2,-12.5C2.7,-11.6 4.4,-9.9 5.6,-8.1C6.8,-6.3 7.8,-4.0 8.4,-1.9C9.0,0.2 9.2,2.6 9.1,4.4C8.9,6.2 8.3,7.6 7.5,8.8C6.7,9.9 5.7,10.6 4.4,11.2C3.2,11.9 1.5,12.5 0.0,12.5C-1.5,12.5 -3.2,11.9 -4.4,11.2C-5.6,10.6 -6.7,9.2 -7.2,8.8" stroke-width="2.5"/><path d="M-6.2,-5.6C-5.6,-5.7 -3.8,-6.7 -2.5,-6.2C-1.2,-5.8 0.2,-4.6 1.2,-3.1C2.3,-1.6 3.6,0.6 4.1,2.5C4.6,4.4 4.7,6.8 4.4,8.1C4.1,9.4 2.8,10.2 2.5,10.6" stroke-width="1.3"/><path d="M-10.6,0.6 L-10,-3.5 L-8,-5.5 M-7.2,8.75 L-4.4,5.6 L-2.5,2.5 M-5,-10 L-3.7,-6.3 L-0.6,-5.6 L1.9,-8.1 M-8,-5 L-7.6,-1.5" stroke-width="1.3"/><path d="M2,-7.5 L5.5,-2 M5,-4 L7.5,2 M6,3 L7.5,7.5 M-1,-9.5 L0.5,-7" stroke-width="1.0"/><path d="M-15.5,8.8 L-2.5,2.5" stroke-width="1.5"/></g>
<text class="lb" x="430" y="334" text-anchor="middle">1</text><path d="M433.75,338L433.75,382.5" stroke="#000" stroke-width="1.6" fill="none"/><circle cx="433.75" cy="382.5" r="3.2" fill="#000"/>
<text class="lb" x="829" y="420" text-anchor="middle">2</text><path d="M822.5,420L789.7,451.9" stroke="#000" stroke-width="1.6" fill="none"/><circle cx="789.7" cy="451.9" r="3.2" fill="#000"/>
<text class="lb" x="606" y="934" text-anchor="middle">3</text><path d="M598,925.5L553.75,925.5" stroke="#000" stroke-width="1.6" fill="none"/><circle cx="553.75" cy="925.5" r="3.2" fill="#000"/>
<text class="lb" x="638" y="1115" text-anchor="middle">4</text><path d="M632.5,1098.75L601.25,1069.5" stroke="#000" stroke-width="1.6" fill="none"/><circle cx="601.25" cy="1069.5" r="3.2" fill="#000"/>
<text class="lb" x="309" y="942" text-anchor="middle">5</text><path d="M321.25,933L365.5,933" stroke="#000" stroke-width="1.6" fill="none"/><circle cx="365.5" cy="933" r="3.2" fill="#000"/>
<text class="lb" x="132" y="815" text-anchor="middle">6</text><path d="M143,799.4L174.4,769.2" stroke="#000" stroke-width="1.6" fill="none"/><circle cx="174.4" cy="769.2" r="3.2" fill="#000"/>
<text class="lb" x="197.3" y="724.5" text-anchor="middle">7</text><path d="M199.25,703.75L199.25,659.25" stroke="#000" stroke-width="1.6" fill="none"/><circle cx="199.25" cy="659.25" r="3.2" fill="#000"/>
<text class="lb" x="69" y="623.8" text-anchor="middle">A</text><path d="M83.1,617.0 L103.8,620.0" fill="none" stroke="#000" stroke-width="1.5" />
<text class="lb" x="71.2" y="764.8" text-anchor="middle">B</text><path d="M84.2,748.2 L103.8,734.4" fill="none" stroke="#000" stroke-width="1.5" />
</svg>
<div class="code">M26 0918</div>
<div class="cap">A and B = Heater matrix</div>
<div class="botline"></div>
</body></html>
